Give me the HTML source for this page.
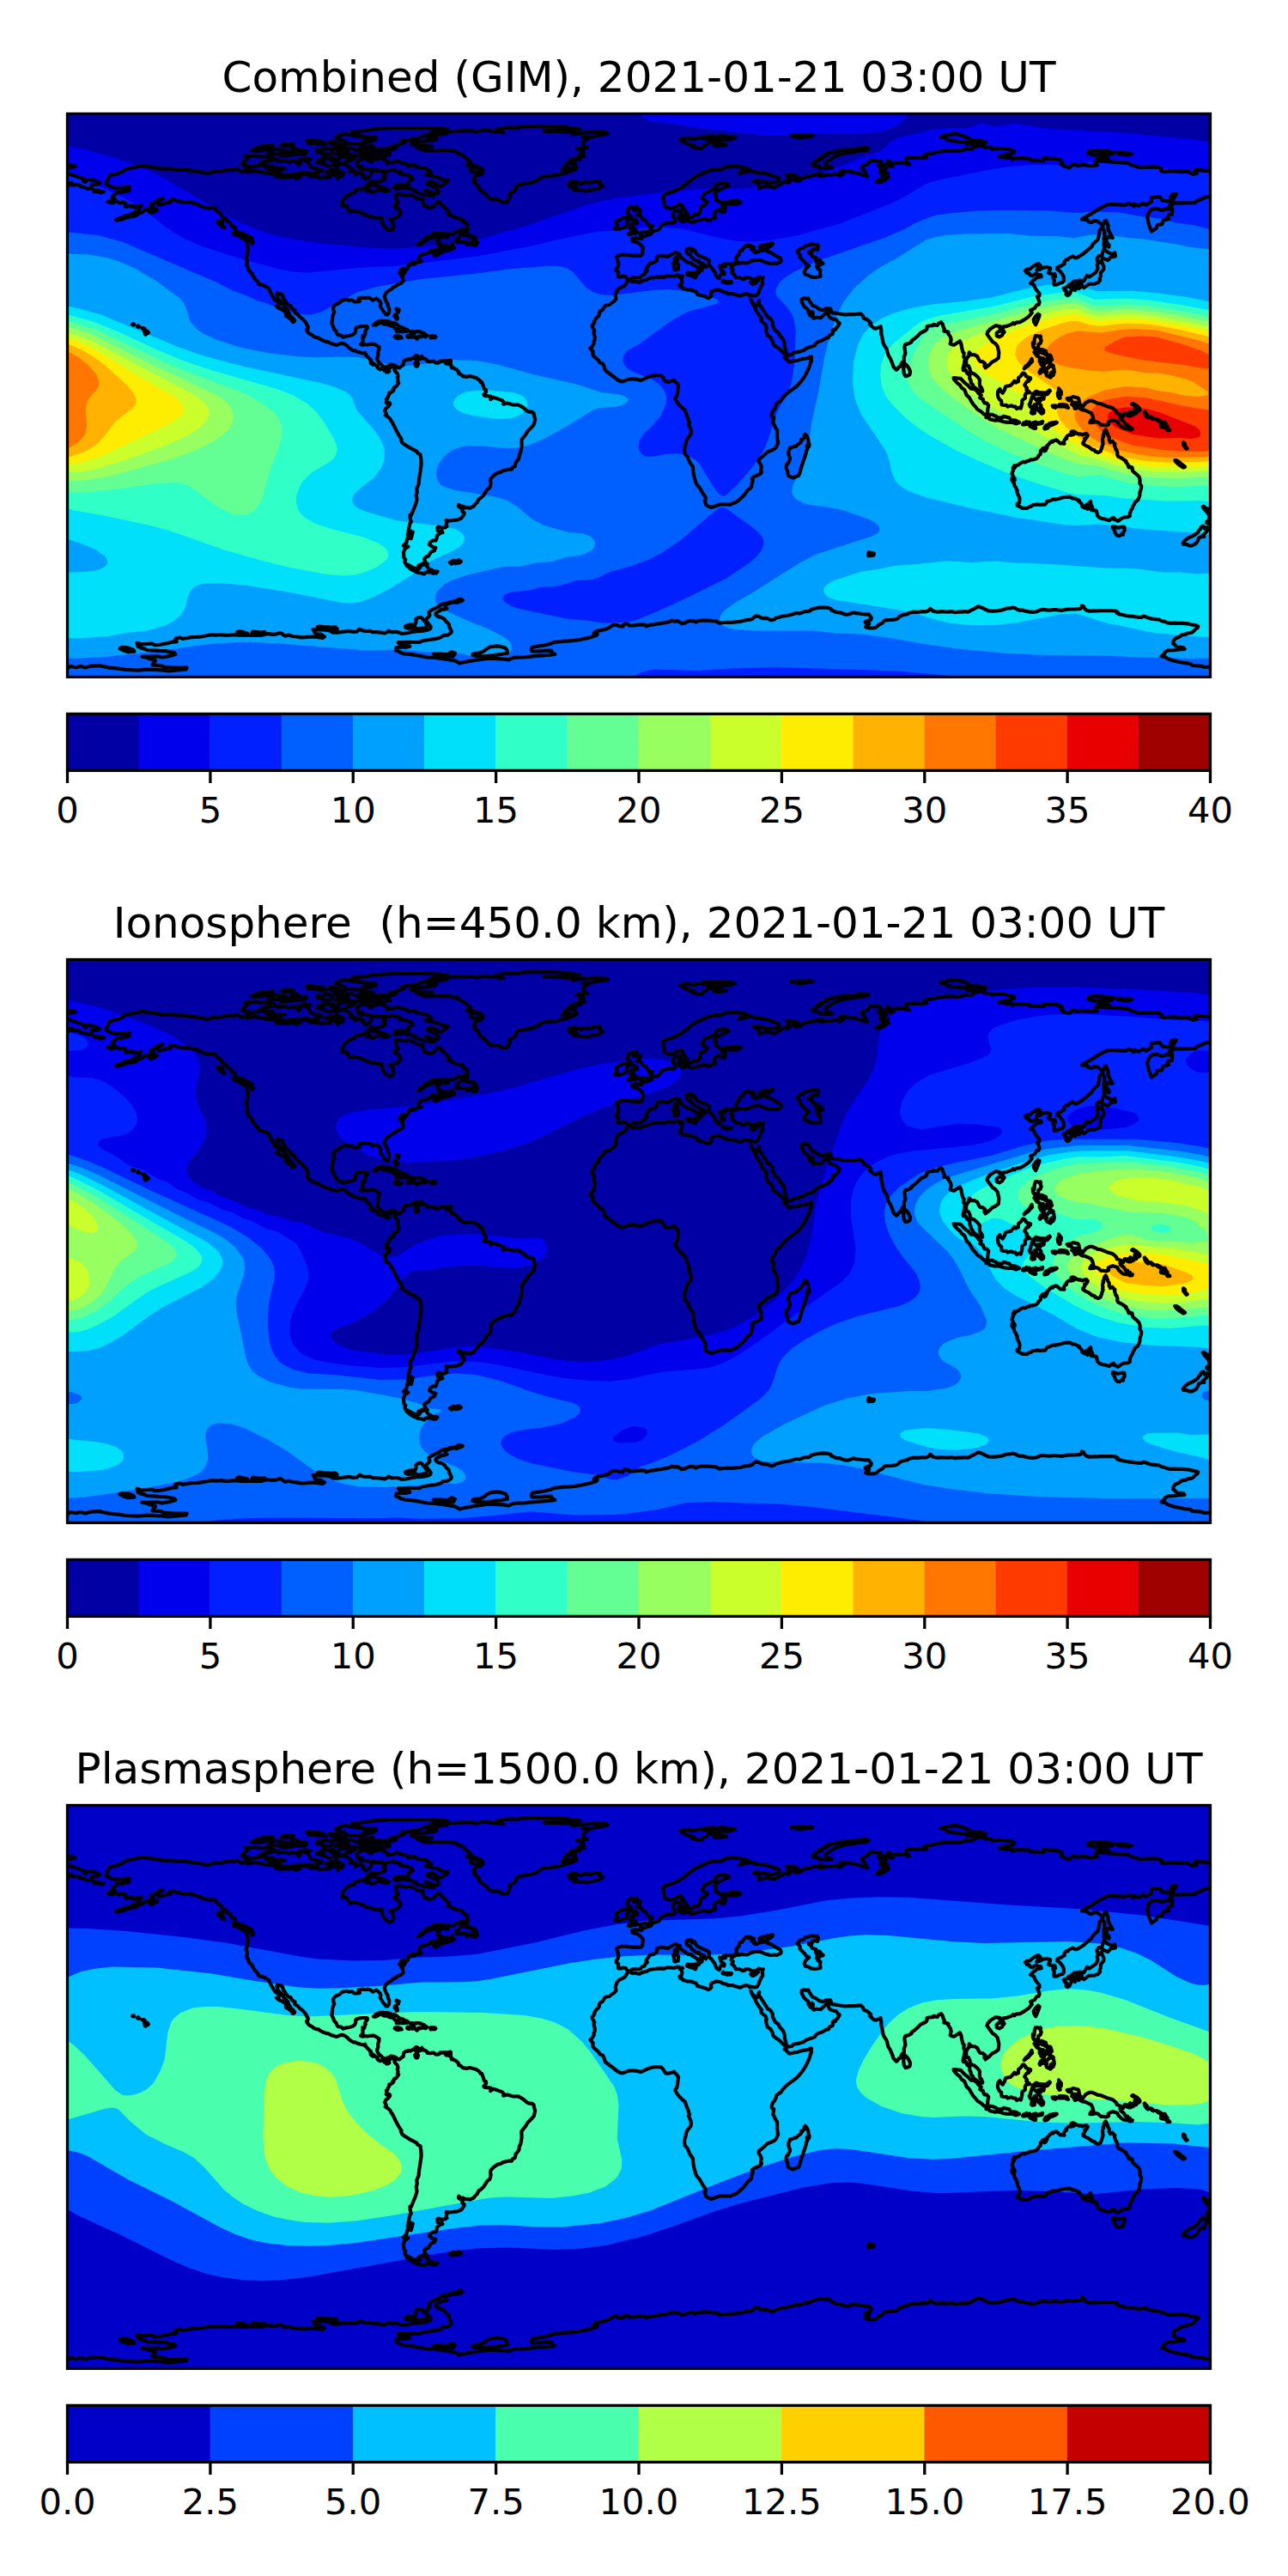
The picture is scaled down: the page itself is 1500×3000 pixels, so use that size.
<!DOCTYPE html><html><head><meta charset="utf-8"><title>TEC maps</title><style>html,body{margin:0;padding:0;background:#fff}svg{display:block}text{font-family:"DejaVu Sans","Liberation Sans",sans-serif;fill:#000;white-space:pre}</style></head><body>
<svg width="1500" height="3000" viewBox="0 0 1500 3000">
<rect width="1500" height="3000" fill="#fff"/>
<defs><clipPath id="mc"><rect x="0" y="0" width="1331" height="655.9"/></clipPath><path id="coast" d="M44.6,81.7 49.5,71.6 58.5,69.7 63,67.9 67.9,64.5 78.7,62.2 87.7,60.4 93.4,61.5 103.9,62.6 109.9,64.1 120,64.1 128.6,65.2 136.5,65.2 146.2,66.7 153.3,67.5 163.1,69.7 171,67.1 176.6,67.5 188.2,64.9 193.5,65.6 197.2,64.1 203.2,67.5 208.5,64.9 208.8,67.9 213.3,67.1 219.3,66.4 225.3,67.9 234,69.4 239.2,70.1 243,69.7 247.8,71.6 242.6,73.5 249.3,74.2 259.5,73.9 262.8,73.1 266.6,75.4 270.7,73.5 266.9,72 269.2,70.7 276.7,70.1 280.1,70.9 283.8,73.1 287.9,72.7 294.3,74.6 300.3,73.9 305.9,73.9 305.2,71.6 308.6,70.9 314.6,72.4 314.6,75.7 316.8,72.7 319.8,72.7 321.7,69 317.6,66.7 313.1,65.2 313.4,61.1 317.9,58.5 322.8,58.9 326.6,60.7 331.8,64.9 328.4,66.7 335.6,67.5 335.2,71.2 340.4,68.2 344.9,70.9 343.8,73.5 347.4,76.1 351.3,73.5 353.9,70.1 354.3,66 359.6,66.4 365.2,66.7 370.1,68.6 370.4,70.5 367.6,72.7 370.2,74.6 369.7,76.5 362.6,79.1 357.3,79.5 353.2,78.4 352.1,80.2 348.7,83.6 347.6,85.1 343.1,87.7 337.8,88.1 334.8,89.6 334.4,91.9 330.3,92.6 325.4,95.6 321.7,99.7 320.2,102.7 319.8,107.2 325.4,107.6 326.9,111.4 328.8,114 334.1,113.2 341.2,114.7 344.9,116.2 347.6,118.1 352.1,119.2 356.2,120.7 362.2,121.1 366.3,121.5 365.9,124.5 367.1,128.2 369.7,132.4 375.3,136.1 378.3,135 380.2,130.9 378.3,125.2 375.7,123 381.7,121.5 385.8,118.9 388.1,116.2 387.7,113.6 385.1,110.4 380.6,107.6 385.1,103.7 383.2,100.1 382.1,94.5 384.7,93.5 391.1,94.5 394.8,94.9 398.2,94.1 401.5,95.2 406,97.5 407.2,99 413.9,99 413.9,102.4 415,106.9 418.4,107.6 421.4,109.9 426.7,107.6 430.4,103.5 432.7,102 435.7,105.4 440.5,109.9 444.7,114.4 443.2,117 448,118.9 451.4,121.1 457.4,122.2 460,123.4 461.5,126.4 464.2,127.1 465.7,128.2 466,132.7 460.8,135.3 454.4,136.5 449.9,139.8 443.5,140.2 435.3,139.5 429.7,139.5 425.9,139.8 422.9,142.5 418,144 412.4,149.2 408.3,152.6 411.3,151.8 417.3,147 425.2,144 430.8,143.6 434.2,145.5 430.8,147.7 431.9,151.8 433,154.8 437.9,156.7 444.3,156 448,151.8 448.4,154.5 450.7,156 446.2,158.2 437.5,160.5 434.2,162 429.7,165 427,164.6 426.7,161.2 433.4,158.2 427.4,158.2 423.3,159 423.8,160.1 419.9,162 415.8,163.2 412,164.2 410,166.5 409.4,169.5 410.5,171.3 412.4,171.7 410.2,172.5 405.3,173.2 401.5,173.6 398.6,174.7 404.2,174 405.3,174.7 400,175.8 397.4,175.8 397.4,176.6 396.3,180 394.1,182.2 391.8,180 393.3,182.6 393.3,184.1 392.2,185.6 390.3,188.6 391.1,186 389.2,184.5 388.6,181.3 388.1,183 388.8,185.2 386.3,184.8 388.8,186 389,189.5 390,189.7 390.4,191 391.1,194.8 388.4,197.6 384.7,198.7 382.2,201 378.5,202.5 377.9,203.7 373.8,206.2 371.7,208 370.1,210.3 369.3,213 370.1,215.6 371.3,218.6 373.1,221.2 373.1,222.9 374.7,227.2 374.6,231.3 373.4,233.6 372.3,234 370.4,233.6 370.1,232.1 368.6,231 366.7,228 364.8,225 364.1,223.5 365,221 364.1,219 361.1,216 359.6,215.2 355.8,217.1 355.1,216.7 353.2,215 350.9,214.1 346.8,214.5 343.4,214.1 340.4,214.5 338.9,214.8 339.7,216 339.7,217.5 340.4,218.2 339.7,218.6 338.2,218.2 336.9,219 334.1,218.8 331.4,216.7 328.1,217.3 325.4,216.3 323,216.7 319.8,217.5 316.4,220.5 312.7,222 310.8,223.8 309.7,225.3 309.7,228 310.1,229.8 310.8,231 309.3,234.3 308.6,237 308.2,242.2 307.8,244.1 308.6,246 309.7,247.8 310.4,250.8 313.1,253.5 313.8,255.7 315.3,257.6 319.4,258.3 320.9,260.2 324.3,259.1 326.9,258.7 329.9,258 332.2,257.2 334.4,255.7 335.6,253.5 335.7,250.5 336.3,249.3 338.9,248.2 343.1,247.5 346.1,247.5 348.5,247.5 349.4,248.2 349.2,249.9 347.2,252 346.4,254.6 347.2,255 346.4,256.8 345.7,259.5 344.6,258.7 343.8,258.7 344.6,260.2 343.8,262.1 344.2,264.3 343.6,266.2 341.6,268.4 344.2,269.2 346.4,268.4 349.1,269 352.1,268.4 354.7,268.4 356.2,268.1 358.4,268.8 360.7,270.3 363.1,271.8 362.6,272.9 362.9,274.4 361.8,277.1 361.8,281.6 361.1,283.4 360.5,285.3 361.2,287.2 362.2,289.1 363.7,290.6 365.6,292.1 366.7,293.6 366.7,294.3 368.6,294.3 369.7,295.1 371.6,294.8 373.1,293.9 375.3,293.2 376.4,292.1 378.7,292.3 380.6,292.8 382.2,293.4 383.6,294.5 384.9,295.6 386.9,295.8 389.6,293.2 391.1,292.8 391.8,288.3 394.1,286.4 396.3,286.4 396.7,285.7 399.7,286.1 402.7,284.2 404.2,283.2 405.9,281.6 407.2,281.6 408.3,282.7 407.5,283.8 405.3,285.3 406.4,286.9 406.4,288.9 404.5,291.1 406,294.1 407.7,293.9 408.5,291.1 407.4,289.8 407.2,286.9 411.7,285.3 411.3,283.6 412.8,282.3 413.9,284.9 416.5,285.3 419.2,287.2 419.2,288.5 422.5,288.7 426.7,288.1 428.7,289.8 431.5,290.2 433.8,289.1 433.8,288.2 438.3,287.9 442.8,287.9 439.8,289.1 440.9,290.8 443.9,291.1 446.9,292.8 447.4,295.8 449.4,295.8 450.8,296.7 453.3,298.1 455.5,300.5 455.7,302.6 457,302.6 459.3,304.4 460.6,305.7 465.1,306.4 468.5,305.5 472.6,306.5 476.5,307.8 480.7,310.9 481.2,312.5 482.5,312.3 483.4,314.4 485.5,320.9 487.5,321.5 487.6,324.1 484.8,327.2 485.9,328.4 492.7,329 492.7,332.7 495.7,330.2 500.3,331.6 506.5,333.9 508.4,336.1 507.7,338.1 512.2,337 519.4,339 525,338.8 530.5,341.9 535.4,346.1 538.2,347.2 541.4,347.4 542.9,348.5 544,353.3 544.7,355.6 543.3,361.8 541.2,364.2 536,369.5 533.6,373.7 530.9,377 528.8,379.8 529.1,386.8 528.1,392.6 527.6,395.1 526.5,396.5 525.8,401.5 522,406.4 521.4,410.3 518.3,411.9 517.4,414.2 513.4,414.2 507.5,415.6 504.8,417.3 500.6,418.4 496.2,421.4 493,425.1 492.5,427.9 493.1,430 492.4,433.8 491.6,435.6 488.9,437.6 484.8,444.2 481.5,447.2 478.9,449 477.2,452.5 474.8,454.7 473.2,457 468.9,459.1 466.1,458.4 464.2,458.8 460.6,457.2 458.2,457.3 455.8,455.2 455.5,457.2 460.4,460.4 459.8,463 462.1,464.5 462,466.4 458.4,471.2 452.8,473.2 445.3,474 441.1,473.6 441.9,475.9 441.2,478.7 441.9,480.6 439.6,481.9 435.8,482.4 432.2,481 430.7,482 431.2,485.8 433.8,486.9 435.8,485.7 436.9,487.6 433.5,488.8 430.5,491.2 429.9,494.9 429,496.9 425.5,496.9 422.6,498.8 421.5,501.7 425.2,504.4 428.8,505.2 427.5,508.5 423,510.7 420.6,515 417.2,516.5 415.6,518.3 416.8,522.2 419.4,524.3 414.3,523.6 408.7,526.4 408.7,529.8 402.8,528.8 398.6,526.2 393.9,524 392.7,521.6 393.8,519.4 391.9,517 391.4,510.5 393,506.9 396.9,504.1 391.3,503 394.8,499.6 396.1,493.4 400.3,494.7 402.2,487 399.7,486 398.6,490.7 396.2,490.1 397.4,484.7 398.6,477.8 400.3,475.3 399.3,471.6 399,467.4 400.5,467.2 402.9,461.2 405.4,455.2 407,449.6 406.2,444 407.3,440.9 406.8,436.3 409,431.7 409.7,424.5 410.9,416.7 412.1,408.3 411.8,402.1 411,396.9 407.2,394.7 406.9,393.2 399.5,389.4 392.8,385.3 389.9,383 388.4,379.9 389,378.8 385.8,373.9 382.1,367 378.5,359.5 377,357.8 375.8,355 372.9,352.6 370.2,351.1 371.4,349.4 369.6,345.8 370.8,343.2 373.8,340.8 375.8,338 375,336.4 373.5,338.1 371.3,336.5 372.1,335.4 371.4,332 372.8,331.5 373.4,329.1 374.9,326.7 374.6,325.2 376.7,324.4 379.2,322.9 378.7,321.7 380.1,321.4 380,319.6 380.8,318.2 382.7,317.9 384.3,315.6 385.7,313.6 384.3,312.7 385,310.6 384.2,307.1 385,306.1 384.4,303 382.9,301 381.6,299.9 380.8,297.9 381.8,296.9 380.8,296.6 380.1,295.4 378.2,294.3 376.6,294.6 375.8,295.9 374.3,296.8 373.1,297.7 374.9,299.8 373.4,300.8 371.6,301 371,298.7 369.2,299.2 368.5,297.7 366,297 364.2,297.8 361.8,296.4 361,295.6 361.3,294.1 360.3,293.2 357.5,292 357.3,290.9 356.3,290.2 356.5,291.3 355.8,292.2 353.7,290.8 353.2,290.1 353.7,287.8 352.7,287.2 353.5,286.5 350.4,283.8 348,281.3 346.2,279.7 347.2,279.7 346.8,278.2 345.3,278.8 341.8,278.3 338.1,277.4 335.1,275.9 332.8,275.8 329.1,273.5 324.8,269.5 322.9,268.3 319.9,267.3 317.8,267.6 314.8,269 312.8,269.4 310.2,268.4 307.4,267.7 303.9,265.9 301.1,265.4 296.8,263.7 293.7,261.9 292.7,260.9 290.6,260.7 286.8,259.5 285.2,257.8 281.2,255.6 279.4,253.3 278.5,251.5 279.7,251.1 280.2,249 280.2,247.8 278.9,246.1 278.6,244.6 277.3,242.7 274,238.9 270.2,236 268.4,233.7 265.2,232.2 264.6,231.3 265.1,228.9 263.2,228 261,226.2 260.1,223.6 258,223.3 255.9,221.3 254.1,219.5 253.9,218.3 251.9,215.5 250.6,212.6 250.6,211.2 247.9,209.7 246.7,209.9 244.5,208.8 243.9,210.4 244.6,212.2 244.9,215 246.2,216.5 249,219.1 249.6,220 250.7,221.5 252.1,223.9 253.2,224.8 254.1,226.2 256.4,228.1 257.7,231.6 258.7,233.2 259.8,235 260,237 261.8,237.1 263.3,238.8 264.7,240.5 264.6,241.1 263,242.5 262.3,242.5 261.3,240.2 258.9,238.1 256.2,236.3 254.3,235.3 254.4,232.6 253.8,230.5 252,229.4 249.5,227.7 248,227.2 245.7,226.3 243.5,224.1 245.3,224.1 246.7,222.6 246.9,220.9 244,218.3 241.8,217.2 240.4,214.9 239,212.4 237.3,209.4 235.7,206.1 235.1,204.1 232.7,202 230.9,201.6 230.5,200.5 228.4,200.3 227.1,199.3 223.6,198.9 222.6,198.3 222.2,196.2 218.5,192.5 215.4,187.3 215.5,186.4 213.9,185.2 211,182 210.4,179 208.5,176.9 209.3,173.8 209.2,170.6 208,167.7 209.4,164.2 209.9,160.8 210.3,157.4 209.7,152.4 208.5,149.1 207.4,147.4 207.8,146.7 213.3,147.9 215.2,151.5 216.2,150.5 215.6,147.4 214.3,144.3 206.5,140.7 203.9,139 197.1,137.5 195,134.1 195.5,131.9 190.7,130.3 190.1,127.3 185.6,124.5 185.4,122.6 183.4,121.2 180.1,120 179,116.7 174.2,113.7 172.2,110.2 168.6,109.9 162.6,109.8 158.2,108.7 150.5,104.8 146.9,104.1 140.3,102.8 135.1,103.1 127.7,101.4 123.3,99.8 119.2,100.6 119.9,103.2 117.8,103.4 113.5,104.2 110.2,105.5 106,106.3 105.5,104.1 107.2,100.4 111.2,99.2 110.2,98.3 105.4,100.4 102.8,102.9 97.4,105.5 100.1,107.4 96.6,110 92.6,111.6 88.8,112.8 87.9,114.4 82,116.4 80.9,118.1 76.5,119.7 73.9,119.5 70.4,120.5 66.6,121.8 63.5,123 57,124.1 56.5,123.5 60.6,121.7 64.2,120.5 68.2,118.5 72.9,118.1 74.7,116.5 79.9,114.3 80.8,113.5 83.5,112.2 84.2,109.4 86.1,107.2 81.8,108.3 80.5,107.6 78.5,109 76.1,107.1 75.1,108.5 73.6,106.6 69.9,108.1 67.6,108.1 67.3,105.8 68,104.5 65.5,103.1 60.7,103.9 57.5,102.1 54.9,101.2 54.9,99.1 52,97.5 53.5,95.3 56.5,93.2 57.9,91.3 60.9,91 63.5,91.6 66.5,89.8 69.2,90.1 72.1,89 71.4,87.3 69.3,86.6 72.1,85.1 69.8,85.2 65.8,86 64.6,86.8 61.7,86 56.4,86.4 50.9,85.5 49.3,84 44.6,81.8ZM499.6,18.3 512.1,16 525.3,16.2 530.1,14.8 543.3,14.4 573.3,14.9 596.7,17.9 589.8,19.3 575.4,19.5 555.3,19.9 557.1,20.5 570.4,20.1 581.7,21.4 589,20.3 592.1,21.6 588,23.8 597.6,22.4 615.7,21 627,21.7 629.1,23.3 613.8,25.9 611.7,26.8 599.7,27.4 608.4,27.6 604,30.4 601,32.8 601.1,37 605.6,39.4 599.7,39.6 593.6,40.8 600.5,42.7 601.4,45.9 597.4,46.3 602.2,49.5 593.9,49.8 598.3,51.3 597,52.6 591.8,53.2 586.5,53.2 591.2,55.8 591.3,57.4 583.8,55.9 581.9,56.9 587,57.8 591.9,60.1 593.3,63.1 586.6,63.9 583.7,62.4 579.1,60.3 580.4,62.8 576,64.8 585.9,64.9 591.1,65.1 581,68.4 570.8,71.3 559.9,72.6 555.7,72.7 551.9,74.1 546.6,78.1 538.6,80.7 536,80.8 531,81.8 525.6,82.6 522.4,85 522.4,87.6 520.4,90.1 514.3,93.1 515.8,96 514.1,99.1 512.2,102.7 506.9,103 501.4,99.9 493.9,99.9 490.3,97.8 487.8,94.2 481.3,89.5 479.4,87.1 478.9,83.7 473.7,80.2 475,77.5 472.5,76.1 476.2,71.8 481.9,70.4 483.4,68.8 484.1,65.9 479.9,67.2 477.8,67.7 474.4,68.3 469.9,67.1 469.6,64.5 471.1,62.5 474.5,62.5 482.2,63.5 475.7,61.1 472.4,59.8 468.7,60.3 465.6,59.4 469.7,55.9 467.4,54.5 464.5,51.9 460,48 455.2,46.5 455.2,44.9 445.2,42.7 437.2,42.4 427.2,42.6 418,42.9 413.7,41.7 407.2,39.3 417,38.2 424.6,37.9 408.5,37 400,35.5 400.6,34 414.8,32.2 428.5,30.4 430,29 419.8,27.7 423.1,26.2 436.1,23.6 441.6,23.2 440,21.5 448.9,20.5 460.4,19.9 471.9,19.9 476,21 485.9,19 494.9,20.4 500.2,20.7 508,21.9 499,19.9ZM620.5,78.9 619.6,81.3 623.8,83.9 619,86.8 608.2,89.3 604.9,90 600,89.5 589.5,88.3 593.2,86.6 585,84.8 591.7,84.1 591.5,82.9 583.7,82.1 586.2,79.6 591.9,79.1 597.7,81.6 603.4,79.6 608.1,80.6 614.2,78.6ZM426.7,96 416.5,94.5 408.7,92.2 404.2,90.4 405.3,89.2 399.7,87.4 394.4,86.6 394.4,85.5 383.6,87.4 380.2,85.9 382.8,83.2 389.9,83.2 397.4,82.5 396.3,79.5 402.3,75.7 401.5,74.2 400,72.7 394.4,70.9 386.6,69.7 389.2,69 385.1,66.4 381.7,66.4 378.8,64.9 376.8,66 370.1,66.7 356.6,65.7 348.3,64.5 342.3,64.1 339.3,62.6 343.1,61.1 337.8,61.1 336.7,57.4 339.7,54 343.4,52.5 353.2,51.4 350.2,53.6 353.2,56.2 356.7,53.2 366.3,51.6 372.7,55.5 372.1,57.9 379.4,56.8 383.2,55.3 391.4,57.4 396.7,58.9 397.1,60.7 404.2,59.6 407.9,62.2 416.9,63.7 420.3,65.2 423.8,68.6 416.9,70.5 425.9,72.7 431.5,73.9 437.2,77.2 443,77.2 441.7,79.9 435.3,84.4 430.8,82.9 424.8,79.1 419.9,79.5 419.5,81.7 423.3,84 428.5,85.9 430,86.6 432.3,90.4 431.2,93 426.3,92.2 416.9,89.2 422.2,92.2 426.3,94.5ZM375.7,42 382.8,40.1 375.7,38.6 380.9,37.5 392.2,33.7 388.8,31.9 397.8,30.4 407.9,28.9 414.3,25.9 422.9,23.2 429.3,22.5 420.7,24 424.4,21.7 442.8,19.1 443,18.4 433.8,17.2 418,16.5 398.2,16.5 377.6,16.5 354.3,18.2 348.8,19.5 331.4,21 332.2,22.3 345.7,27 349.1,27.2 359.2,27.4 359.6,29.6 355.8,30.7 350.6,29.2 353.2,30.7 347.9,31.9 354.7,31.9 341.6,34.9 345.1,34.1 341.2,37.1 345.7,38.6 356.2,37.5 351.3,39.4 339.3,41.2 353.2,42 362.9,41.4 370.8,41.2ZM314.9,25.9 323.2,23.2 333.3,25.5 339.3,26.2 345.7,27 348.7,29.2 341.6,34.9 334.4,34.9 326.6,34.5 322.4,32.6 322.8,31.5 318.7,30.4 312.3,27.4ZM373.8,48 367.8,49.1 362.9,48.4 352.1,49.1 344.2,49.1 338.2,48.7 328.4,47.6 326.9,45.4 326.6,43.5 322.8,42 314.9,41.6 310.8,40.3 312.3,38.6 319.8,39 323.9,40.1 331.4,40.1 334.8,41.6 338.2,43.1 340.4,44.6 350.9,45 356.9,44.2 364.6,43.9 370.8,44.2 374.7,45.7 375.7,47.2ZM323.9,46.9 321.7,48.4 316.4,48 311.9,47.2 313.8,45.4 319.3,44.4 322.5,45.7ZM325.4,55.2 321.4,58 317.2,57.9 314.8,54.6 314.9,52.9 316.8,51.1 320.6,50.1 328.4,50.2 335.6,51.1 329.9,54.5ZM306.7,65.2 310.4,66.1 312.7,66.7 316.4,69 313.8,70.3 308.9,69.1 305.9,69.5 300.7,67.9 304.1,66.7ZM305.2,60.7 302.6,60.4 299.9,59.2 290.6,56.2 290.6,55.1 298.4,55.5 294.3,52.9 298.4,51.4 302.9,52.1 309.7,51.4 310.8,52.5 307.3,54.4 313.1,55.9 312.3,59.2ZM270.7,55.5 268.4,54 271.8,53.6 275.6,54 279.7,55.5 281.9,59.2 283.1,61.9 289.4,63.7 296.2,65.6 295.8,67.1 289.8,67.5 292.1,69 290.9,70.3 284.2,69.7 277.6,68.6 273.3,69 266.2,70.1 256.8,70.9 250.1,71.2 248,69.4 243,68.2 239.6,68.6 235.1,65.8 237.3,65.4 243.3,64.9 248.6,64.9 253.5,64.1 246.1,63.4 238.1,63.7 232.8,63.7 231,62.2 239.6,60.7 233.7,60.7 227.2,59.8 230.4,57 232.9,55.5 243,53.2 246.7,54 244.8,55.7 253.5,54.5 258.5,56.4 262.8,54.5 266.2,55.9 269.2,59.4 271.1,57.9 268.4,54ZM202.8,58.5 211.5,60.7 213.3,62.2 211.5,63 202.8,58.5 204.3,57 207,54.4 210.3,51.7 206.6,49.5 219.3,49.1 224.6,49.9 234,49.9 237.7,51 241.8,52.5 237,53.6 228,56.2 223.1,58.9 223.1,60.4 213.3,62.2ZM276.3,46.9 263.6,47.4 254.2,49.1 248.6,49.1 247.8,48 255.7,46.1 238.8,46.7 233.6,46.1 238.6,42.4 242.2,41.2 252.7,42.7 259.5,44.8 265.9,45.1 260.6,41.6 264,40.1 268.1,40.5 269.2,42.4 270.7,43.7 274.1,43.1 277.8,43.2 278.6,45ZM296.6,46.6 296.7,44.5 290.6,44.8 290.2,42 294.3,42 299.9,40.7 305.2,40.9 305.6,40.5 308.6,42.1 308.6,44.1 306.8,46.9 300.7,47.2ZM283.1,52.9 279.7,55.3 274.1,52.6 275.2,52.1 280.1,52ZM239.2,36.9 238.8,39.7 235.8,41.2 232.5,41.2 225.3,42.9 219.3,43.5 214.3,42.7 220.5,39.7 228.3,37.5 234,37.5ZM320.6,36.4 323.6,37.1 323.2,37.5 314.2,37.3 313.4,36.4ZM261.7,36.7 254.8,37.9 249.3,36.7 252.3,35.4 257.6,35.1 263,35.6ZM305.2,33.9 305.2,32.4 310.1,32.6 312.1,32.7 316.6,34.1 315.7,35.4 310.1,36.2 307.1,35.3ZM286.8,31.2 296.9,32.6 299.7,34.5 301.1,36 295.1,35.6 288.9,34.5 280.4,34.1 284.2,33 279.7,32.2 279.3,30.7ZM355.4,81.7 356.3,83.6 358.1,82.9 360.3,84 364.4,85.1 368.9,86.2 369.1,88.2 371.9,87.9 374.6,89.2 371.2,90.4 365.6,89.4 363.3,87.7 359.6,89.6 354.3,91.7 352.9,89.6 347.9,90 351.1,88 351.7,85.1 352.8,81.7ZM466.4,135.7 464.5,138 461.9,141.3 464.5,140 466.8,141 465.7,142.1 469,143.2 470.5,142.2 474.3,143.4 473.2,146.2 475.8,145.5 476.2,147.5 477.5,149.8 475.9,153.1 474.3,153.3 471.7,152.6 472.6,149.6 471.5,149 467.2,152.2 464.9,152.2 467.5,150.3 464,149.6 460,149.6 452.5,149.6 452.2,148.5 454.4,147.2 452.9,146.2 455.9,144 459.8,138 462.3,135.7ZM434.9,141 439,141.7 443.2,143.2 443.2,144 441.3,144 436.4,142.8 433,141.1ZM436.2,153.5 439,154.1 442.4,153.9 440.5,155.5 439.2,155.7 434.4,154.1 433.4,152.9 434.9,151.7ZM211.8,146.2 210,146.6 203.8,145.1 202.6,143.6 199.3,142.5 198.6,141.3 194.7,140.6 193.3,138.7 193.6,137.7 197.6,138.5 199.8,139.1 203.4,139.5 204.7,140.8 206.6,142.5 210.3,144.1ZM177.3,125.5 180.9,125.2 179.8,129.4 183,132.4 181.5,132.4 179.3,130.7 177.9,129 176,127.9 175.3,126.2 175.5,125ZM101.2,114 97.5,115.5 95.6,114.4 95,112.6 98.4,111.4 100.5,110.7 102.9,111 104.5,112.1ZM31.1,88.9 33.4,89.6 35.6,89.2 38.6,90.4 42.4,90.7 42,91.1 39.4,91.9 36.4,91.1 34.9,90.4 31.7,90.7 30.7,90.4ZM50.6,101.6 53.6,102 54,103.5 51.7,104 49.3,103.3 47.1,102.4ZM366.3,241.1 369.7,241.5 372.7,241.5 376.1,242.6 377.6,244.1 381.1,243.7 382.5,244.5 385.6,246.9 388.1,248.6 389.2,248.6 391.4,249.3 391.2,250.3 394.1,250.5 396.8,252 396.3,252.9 393.8,253.4 391.3,253.6 388.8,253.3 383.3,253.6 385.8,251.6 384.3,250.6 381.9,250.3 380.6,249.2 379.7,247.1 377.6,247.2 374.2,246.2 373.1,245.4 368.2,244.8 366.8,244.1 368.2,243.2 364.5,243 361.8,244.9 360.3,245 359.7,246 357.9,246.3 356.3,246 358.2,244.8 359.1,243.4 360.8,242.6 362.7,241.9ZM400.4,253.5 406,254.2 406.4,253.5 409.4,253.5 411.7,254.6 412.6,254.4 413.3,255.7 415.4,255.7 415.2,256.8 416.9,256.9 418.8,258.3 417.3,259.8 415.6,259.1 413.9,259.1 412.6,259.1 411.9,259.6 410.5,259.8 409.9,259.1 408.7,259.5 407.2,262.1 406.2,261.5 406,260.4 403.5,259.8 401.8,260.2 399.5,259.8 397.8,260.5 395.7,259.5 396,258.1 399.5,258.7 402.3,258.9 403.8,258.1 401.9,256.5 402,255 399.7,254.4ZM384,258.7 386.6,259.1 388.6,260 389.2,261 386.6,261.1 385.4,261.7 383.3,261.1 381.2,259.8 381.7,258.9ZM426.4,258.7 428.3,259.1 428.9,259.8 428,260.7 425.2,260.7 423,260.8 422.8,259.2 423.3,258.6ZM384.3,239 383.2,239.2 382.3,237 380.9,235.8 381.7,233.6 382.8,233.7 384.2,236.8ZM383.2,227.2 386.2,228.3 385.4,231 384.7,230.6 384.9,228.7 383.2,228.3 383,227.4ZM443.5,287.6 445.8,287.2 446.5,287.3 446.4,290.2 443.3,290.6 442.6,290.2 443.7,289.1ZM417.6,525.4 419,527.2 420.9,530 425.7,532.2 431,533.1 429.3,535 425.7,535.2 423.8,533.9 421.6,533.8 417.6,533.8 415.4,536.1 412.6,535 408.7,534.5 403.9,532.4 400.1,530.4 395,526.2 398,527 403.3,529.4 408.3,530.8 410.2,529 411.4,526.5 414.9,525ZM445.4,522.5 449.9,520.2 453.1,521.2 455.4,519.7 458.4,521.3 457.2,522.7 452.2,523.8 450.5,522.5 447.3,524.2ZM91.7,256.5 91.1,257.1 90.2,256.6 90.3,255.6 89.7,254.2 89.9,253.8 90.5,253.2 90.3,252.4 90.5,252.1 92.9,253.1 93.5,253.6 94.4,254.9 92.9,255.9ZM89.7,250.7 88.4,250.9 87.8,250.2 87.4,249.9 87.3,249.6 89,249.6 90,250.2ZM83.8,248.1 83.6,248.4 82,248.2 81.5,247.3 81.4,247.2 82.4,246.6 82.7,246.9ZM77.4,245.7 77,246 75.7,245.3 75.9,245.1 76.5,244.7 77.3,244.8ZM1349.7,69.5 1344.5,67.9 1333.6,66.1 1325.9,66.3 1313.9,65.2 1312.3,66.9 1315.3,69.4 1310.7,70.5 1304.2,67.2 1297,67.6 1289.9,66.8 1283.3,67 1278.3,67.7 1273.7,66.7 1274.1,63.9 1271,62.4 1263.5,61.8 1248.4,62.5 1238.6,59.6 1235.4,57.4 1201.5,54.9 1196.6,56.5 1199.3,60 1190.4,60.6 1183.1,59.4 1176.8,60.4 1170.7,58.7 1167.1,62.7 1161.2,61.2 1156.5,58.2 1158.7,56.6 1157,54.2 1151,52.2 1145,52.3 1137,51.6 1136.8,54.5 1121.1,53.9 1120.2,52.2 1108.2,51.6 1102.2,52.2 1100.5,53.1 1098.6,50.7 1095.2,51.4 1089.7,50.5 1085,49.9 1087.9,48.8 1097.7,46.8 1101.9,45.6 1102.8,43.7 1099.8,42.3 1091.3,40.5 1080.4,40.4 1076.9,41.3 1075.9,39.5 1067.5,38.9 1066.1,36.7 1057.3,38.3 1052.7,41.5 1045.8,41.4 1037.4,43.4 1024.4,42.9 1013.3,44.5 1006,46.3 1001.7,46.4 997.4,48.9 1000.4,50.8 992.3,51.4 983.3,51.2 976.7,51.9 977.1,55.9 980.4,59.1 973.5,56.9 965.7,57.1 959.4,58.6 961.2,61.3 957.2,60.6 958.6,57 956.7,54.9 954.8,55 955.7,57.7 948.9,60.2 953.8,63.3 950.8,67 951.7,69.1 955.8,69.4 954.1,71.9 956.3,74 953,75.8 952,77.6 947.9,78.6 946.4,80 942.1,79.4 949.5,74.1 951.1,71.6 946.9,69.3 947.8,64.2 946.6,61.5 944.3,60.3 947.8,57.3 947,55.2 937.1,54.2 934.3,55 931.8,58.4 924.9,61.8 929.8,69 930.4,71.6 931.7,72.8 918.2,68.5 901.9,66.2 899.9,67.4 903.9,69.6 899.6,72.1 895.3,69.8 889.8,71.3 882.7,71.5 880.1,72.7 875.4,72.4 879.1,70.1 876.3,69.9 855.4,74.9 854.4,77.3 848.7,78.1 845.7,76.8 845.7,74.7 850.4,74.3 848.3,72.2 837.8,71 840.6,73.3 838.7,75.5 841.8,77.8 839.7,80.3 836.2,79 824.8,85.1 823.3,86.2 814.3,84 805.7,86.6 805.3,81 799.3,78.4 802,77.8 818.8,80.6 824.8,79.5 829,77.6 828.8,75.1 826,73.5 811.7,69.1 801.6,68.2 795.2,66 791.5,67.3 785.1,68.8 782.1,69.1 787.4,64.9 792.2,63.9 780.5,61.2 766.9,61.8 761.2,64.9 755,64.6 746.8,66.3 736.5,71 730.2,73.8 721.2,81.1 714.4,86.3 706.9,90.2 697,93.3 693.6,95.7 694.7,104.4 696.1,108.4 701.3,110.3 706.3,109.4 713.7,105.1 716.2,107.4 719.1,112.7 722.2,116.9 723.4,120.5 727.7,120.3 729.9,117.4 734.4,117.7 736.5,114.2 738,107.9 741.9,107 745.3,102.8 741.7,100.7 739.1,98.1 741.8,92.8 749,89.6 755,86.6 754.4,84.2 758,81.7 764.5,80.6 769.7,82.4 770.1,83.9 767.6,84.7 759,88.8 755.6,91.1 753.8,93.3 755.6,96.7 754.8,100.4 758.4,101.6 760.6,103.7 770.1,102.2 773.3,101.5 780.1,101.2 784.1,103 779.8,105.1 775.9,105.2 771.8,104.6 767.1,105.1 762.4,106.1 762.7,108.3 765.1,109.6 766.5,109.2 766,111.4 765.3,114.2 762.3,114.3 759.3,111.5 755.8,112.8 753.9,115.2 753.8,118 754.6,121.1 749.4,122.3 748.6,124 745,124 744.7,123.1 740.9,122.4 736.2,123.7 730.4,125.4 727.8,126.5 721.8,123.8 719.7,124.9 715.9,125.6 715.9,124.3 712.1,123.4 712.1,121.9 711.1,120.1 713.8,117.4 715.8,116.4 713.3,114.8 714.5,111.6 711.5,112.7 706.9,113.9 705.8,115.1 705.3,119.9 706.9,122 707,124.1 707.9,125.5 705.3,127.4 701.5,126.8 697.6,127.4 692.5,129 689.2,134.5 687.3,135.5 684.3,136.3 681,137 679.9,140.1 671.2,143 667.6,141.4 668.8,145.7 662.5,144.7 657.7,145.5 658,148.3 663.8,149.7 666.5,151.6 670.4,155.6 669.7,163 667.7,165.3 661.7,165.1 658.6,165.3 654.6,164.7 645,164 639.7,166.7 641.2,172.3 642,175.2 640.9,179 639.4,180.4 639.1,182.8 641.7,184.6 641.5,189.8 645.4,189.9 646.9,189 650.4,189.6 651.5,191.7 652.9,193 654.7,193.3 658.5,190.5 666.8,190.6 669.5,187.7 672.3,186.9 673.1,184.5 675.3,182.8 673.8,180.7 677.6,175.5 677.9,174.3 682.7,173.5 686.3,171 686.5,166.5 692,165.3 699.4,166.4 702.8,164.3 708.2,161.7 713.1,163.4 714.3,167.1 720.3,171.7 723.2,173.4 726,173.6 727.6,175.1 732.6,177.9 733.8,179.8 735.3,182 733.7,185.9 735.2,185.6 737.3,182.4 738.8,182.2 739.2,180.3 736.5,178.8 738.1,176.4 741.4,177 743.4,178.8 744.2,177.5 740.6,174.8 737.8,173.7 734.4,172.3 735.5,171.6 731.6,170.7 727.5,167.7 725.6,164.6 722.1,162.8 720.8,160.8 721.3,159.8 721.1,157.9 724.1,156.6 727.1,157.1 726.1,158.8 727.2,160.1 728.3,158.5 730.7,159 731.8,162.2 734.9,164.9 740.5,167.4 744,168.8 747.5,171 747.6,172.8 747.3,175.4 747.6,177.2 749.7,178.4 750.4,179.5 752.2,182 754.1,184.4 754.7,186.9 756.1,189.9 759.2,191.6 760.2,188.2 761.7,185.9 764.9,186.9 765,184.8 761,181.8 759.7,177.1 762.4,178.2 766.4,177.7 763.7,175.5 768.2,174.5 772.6,175 773.5,177M773,180.1 775.4,181.9 773.6,184.8 776.3,186.9 778.5,190.6 782.6,190.5 786.2,192.6 788.8,192.1 789.7,190.5 793.7,190.7 796.8,192.7 802.5,192.3 805,190.1 808.2,191 810.4,190.7 809,192.1 809.5,195.3 809.8,198.2 807.9,200.9 806.6,204 805.9,205 805.2,207.8 804.2,209.5 803.4,211 801.5,211.9 798.6,211.8 795.6,210.9 794.7,212.1 793.7,210.2 791,209.7 787.7,210.1 783.3,212.3 781.5,211.7 774.2,209.6 769.2,209.7 768.3,208.5 763.4,207.4 760.7,205.7 755.6,204.9 750.3,207.2 749.2,209 750,211.9 748.2,213.6 746.4,214.6 742.4,212.7 737.1,211.2 733.8,210.4 732,207.1 727.1,205.4 723.9,204.8 722.3,205.1 718,203.8 716.5,203.2 715.6,201.4 713.6,201.4 712.9,199.4 715.4,197.5 715.9,194.2 714.6,191.6 716.5,189.7 716.2,189 713,190.4 713.2,188.5 710.5,188 706.4,189.5 702.4,188.9 698.3,188.9 694.8,190.4 692.9,189.8 686.7,190.2 680.4,190.8 676.7,192 674.4,193.5 670.3,194.2 666.7,196.2 665.1,196.2 661.2,195.3 657.7,195.6 655.4,194 652.6,194 651.5,196.3 649,200.2 646.2,201.7 642.4,203.4 640,206 639.5,207.9 638.1,211.2 639,215.8 635.9,219 634,220 631,222.5 627.6,222.9 625.6,224.4 623.2,228.3 620.7,229.6 619.4,231.9 619.3,234 618.3,236.1 617,236.7 615,239.1 613.6,241.8 613.9,243 612.7,245 611.2,246 611.1,247.8 613.8,252.7 612.9,254.6 614.3,260.2 613.9,263.7 612.8,265.6 613.2,267.5 610.4,272.1 608.8,272.8 612.3,277.1 611.7,278.8 612.3,281.6 616.2,285.1 618.1,286.7 620.2,289.8 623.4,291 625.2,294.7 626.3,298.8 631,302.3 634.5,305 641.1,310 645,311.7 646.7,311.8 650.4,310.4 653,309.4 657.4,308.7 662.7,309.3 667.5,310.4 670.9,309.3 673,308 678.8,305.8 681.9,305 685,304.6 691.1,304.6 693.7,307 695,309.7 697,312.1 700,312.2 702.8,311.5 706.7,310.2 707.6,311.8 710.1,314.1 711.6,316.6 711.1,319.5 710.5,324.3 709.7,328.8 707.9,331.1 707.9,332.2 710.1,335.9 712.6,339.2 716.5,343 719.3,345.2 721.1,350.9 722.6,354 724.5,360.2 723.4,361.7 726,367.5 726.4,370.4 726,373.2 724.8,374.9 721.7,378.9 720.5,382.2 720.3,383.9 718.5,390.6 719,395.8 722.2,399.5 724.9,406.3 728.3,411 728.8,417.5 730.1,423.3 731.9,429.6 733.4,432.4 736.1,435.2 738.8,440.1 740.7,443.3 743.2,446.8 743.3,449.7 742.1,450.3 743.9,455.5 746.8,457.3 750.1,458.5 759.5,455 769.2,454.8 771.5,455.3 773.9,454.1 777.8,452.7 780.7,450.9 787.6,444.8 792.3,438.3 795.6,435.9 796.6,434.2 797,431.1 798,428.3 798.3,426.4 797.3,424.5 798.6,423.1 806.2,419.8 807.8,418.5 808.4,417 807.5,416.3 808.2,410.9 806.8,407.7 805,404.9 805.3,402.2 806.8,401.4 810.9,398 815.1,394 822.8,390.8 825.2,388.4 827.8,383.1 827.1,381.3 826.5,375.5 826.6,368.4 824.7,365.9 823.1,362.2 821.8,359.9 822,358.1 822.7,353.7 820.3,352.4 820.1,350.2 821.8,345.6 823.3,344.4 825.3,340.4 825.8,337.7 828.1,335.9 830.8,334.4 832.5,331.5 836.6,327 840.1,324.1 849.4,317.3 853.9,312.2 857.1,308 860.3,302.6 862.6,297.8 864.4,293.6 865.4,289.5 866.3,288.2 866.2,286.2 866.5,283 865.1,283 863.3,284.3 861.3,284.6 858.4,285.3 856.3,285.4 853.1,286.3 849.8,287.5 845.7,287.9 842.1,288.9 840.3,288.9 838.6,287.3 837.9,285.8 836.7,285.1 835,284 837.2,283.2 837.3,281.6 836.4,280.4 834.6,279.3 831.3,275.9 829.3,273.7 824.1,270.2 822.1,268.4 821.2,264.9 818.9,260.6 815.4,258.3 814,253.8 813.5,249.9 814.3,249.3 813.1,245.6 808.1,241.5 807.9,239 808.7,238.3 805.3,234.2 804.1,232.1 802.7,230.1 799.9,224.2 797.6,220.4 796.1,216.5 797.6,219.3 800.8,223.2 802.9,223.8 804,221.8 804.7,219 805.8,217.5 804.6,222.7 806.8,223.1 812.1,231.3 814.3,234.7 815.5,237 817.3,237.7 819.2,239.2 821.5,243.3 821.1,245.6 824.1,252 828.2,255 829.3,258 833.5,262.5 834.6,265.1 835.3,268.4 835.3,270.7 836.8,276.3 837,278.6 838,280.8 840.6,280.8 843.6,280.4 845.8,278.2 852.6,277.1 855.6,275.9 857.5,275.6 860.8,272.9 866.8,271.1 870.6,269.6 870.6,268.4 874,265.6 878.1,264.3 882.2,262.1 883.7,261 886,261 886.7,260.2 887.1,258.3 889.3,257.2 891.2,256.5 891.6,254.2 891.2,252.3 892.3,251.2 894.2,251.6 895.7,249 897.2,247.8 897.6,246.7 899.1,244.5 899.1,243.7 897.8,243.1 895,239.6 892.7,239.2 890.1,238.5 887.8,237.3 886.3,234.7 885.8,231.7 886.3,229.1 885.1,230.4 882.6,232.8 880,235.1 877.3,237.7 875.1,237.5 872.1,237.3 869.1,238.1 868.3,237.3 867.6,235.8 868.3,233.6 868.3,231.3 867.2,230.2 865,232.5 865.3,235.3 864.2,233.2 863.1,232.1 862.7,228 860.5,226.5 857.8,224.2 856.3,221 854.8,218.2 855.6,217.5 855.2,215.6 858.2,214.5 860.8,215.6 862.7,215 865.5,220.1 868,223.5 871.7,224.6 875.5,227.6 880,228.7 883.7,226.8 886.7,226.5 888.6,226.9 890.1,231.7 894.2,232.1 898.3,232.8 905.5,234 910.7,233.6 916.7,233.6 923.8,232.8 926.5,235.5 927.6,238.5 930.6,239.2 934.9,242.6 935.8,243.9 934.3,245.2 939.2,249.7 941.8,250.1 947.1,247.8 947.8,251.6 947.8,256.1 948.9,261 950.4,268.1 953.8,273.3 954.6,275.6 955.7,280.4 957.6,283.8 958.7,285.7 960.2,289.4 962.1,294.7 965.4,298.2 966.9,297.1 968.4,294.7 971.8,293.6 970.7,292.3 972.2,289.4 974.3,289.2 974.3,282.8 975.9,279.3 975.6,276.3 974.8,271.4 975.9,268.4 977.8,268.3 981.2,266.9 983.1,265.8 983.1,264.3 986.8,261.7 989.4,259.5 993.9,255 999.2,252.5 1001,250.5 1001.1,247.5 1005.6,246.7 1008.2,246.7 1008.6,245.4 1011.2,246.1 1013.4,246.3 1014.6,244.1 1017.6,242.7 1019.1,244.8 1019.8,246.7 1020.2,248.6 1021.3,250.5 1020.9,253.1 1023.9,253.6 1026,254.2 1025.4,255.3 1028.4,259.8 1029.2,263.2 1028.1,267.9 1030.3,268.8 1032.6,269.2 1036.7,266.6 1039.3,264.7 1040.8,267.7 1041.6,272.6 1042.7,277.1 1044.2,278.9 1043.8,283.1 1045.3,285.3 1044.4,290.9 1043.1,296.8 1043.4,298.8 1044.2,296.6 1046.1,298.4 1047.9,302.4 1050.2,303.8 1050.9,305.4 1050.6,308.2 1051.9,310.2 1052.4,313.3 1054.6,315.8 1055,317.7 1059.4,320.7 1063,323.5 1065.7,323.2 1065.7,322 1064.2,318.6 1062.7,317.6 1062.3,314.1 1062.5,309.8 1060.9,307.4 1058.7,305.1 1055.9,302.8 1053.6,302.3 1051.5,300.2 1050.9,296.9 1049.3,293.5 1046.9,293.4 1046.6,287 1048.3,283.4 1049.8,281.9 1050.2,277.8 1052.9,280.7 1056.2,280.6 1059.6,282.3 1061.4,286.3 1062.9,288.3 1065.9,288.7 1068.8,290.9 1067.8,293.4 1069.1,295.8 1073.8,292.3 1076.8,289.1 1081.2,286.8 1084.3,284.3 1084.8,277.7 1083.2,270.7 1080.9,267.7 1077.4,265.5 1073.8,260.6 1071,256.6 1071.8,254 1074.9,250.5 1080,247.3 1081.7,246.7 1086.8,247.8 1085.8,249.3 1086.9,252 1088.9,251.8 1090.3,247.8 1094.2,247.3 1099.4,245.4 1101.5,243.5 1102.9,244.8 1105.1,243.1 1109.4,242.6 1114.7,239.6 1119.8,236 1123.3,231.6 1121.6,228.7 1126.3,226.6 1129,222.6 1131.1,222.2 1132.1,219.3 1129.5,213 1131.9,212 1131.9,209.2 1129.4,206.4 1127,202.8 1125.5,199.1 1121.6,197.2 1125.5,193.5 1127.2,192.7 1128.9,190.7 1134.2,189.7 1133.6,187.7 1131.2,187.5 1127.8,186.1 1123.7,188.7 1120.7,187.7 1120.6,186 1117.5,185.4 1115.5,182.8 1117.4,181.1 1121.1,180.9 1123.4,178.5 1127.7,175.8 1130.9,174.5 1132.9,176.5 1130,179 1130.8,180.5 1128.7,182.2 1132.8,181.2 1135.5,179.4 1140.8,178.4 1144.7,179.8 1144,182.4 1142.4,185.2 1144.4,186.1 1147.9,186.5 1149.9,186.3 1150.5,189.7 1147.7,190.4 1149.4,194.3 1148.7,197.1 1149.1,199.1 1152.5,198.8 1155.5,197.3 1158.9,196.5 1160.3,194.5 1160.3,190.2 1159.3,187.7 1156.1,183.3 1154,181.7 1152.5,181.1 1152.9,179 1154.7,178 1157.1,177.4 1159.2,175.6 1161.2,174.8 1161,172.1 1162.2,170.8 1163.8,169.5 1165.2,169.8 1165.8,168.5 1170.8,165.8 1173.2,167.6 1175.6,167.6 1183,163.1 1188,158.8 1193.1,154.4 1194.3,151.8 1200,146.4 1201.7,140.4 1202,135.9 1204.9,132.2 1204.8,129 1199.4,124.9 1195.3,124.7 1192.9,126.5 1189.2,125.7 1187.4,123.4 1181.5,122.9 1189.3,118.1 1193,116.2 1199.8,111.7 1205.8,108.4 1211.8,105.7 1220.4,105.6 1231.6,106.3 1236.5,104.4 1242.1,107.6 1242.3,105 1247.8,107.2 1253,104 1256.2,106.3 1262.4,102.4 1262.5,97.7 1272.1,96.5 1275.2,101.1 1281.8,101.8 1288.5,98.8 1291.5,93.5 1287,93.8 1284.7,97 1287.1,101.2 1282.3,109.7 1278.5,111.4 1274.4,112.5 1268.8,110.4 1262.8,111.2 1259.4,115.2 1257.6,120.4 1259.4,128.8 1261.3,134.2 1262.6,137 1268.1,133.3 1269.2,129.5 1274.8,128.6 1276.1,124.3 1282.7,122.4 1281.1,120.8 1282.7,117.7 1286.2,117.5 1286.7,112 1286.8,110.7 1282.4,111.2 1282.3,109.7 1286.8,106.1 1288,103.6 1293.1,104.1 1298.4,103.9 1313.5,103.6 1314.9,101.8 1320.3,99.5 1326.1,96.9 1329.4,96.5 1339.8,93.7 1346.9,94.5 1347.8,93.5 1347.4,91.9 1345.7,90.9 1343.4,87.8 1340,85.8 1344.5,86.2 1349.7,84.4M0,69.5 9.2,72.4 19,76.1 18.7,78.4 21.2,79.3 20.4,76.6 30.5,77.2 37.9,80.7 34.2,82.3 28,82.7 27.9,86.4 26.4,87.2 22.9,87.1 20.1,85.7 15.1,84.7 14.2,83 10.4,82.4 6.1,82.9 4.1,81.6 4.9,80.2 0.4,81.1 2.1,82.9 0,84.4M779.9,172.1 778.6,168.4 780,165.8 782,164.2 783,159.7 786,159.2 785.9,158.3 790.2,153.4 793.9,154.4 793.7,152.9 799.7,155.3 796.8,158.1 800.7,159.2 799.8,161 801.9,161.7 807,159.6 811.1,158.9 811.8,157.6 808,157.8 806.2,156.9 805.9,154.6 809.2,153.2 812.7,153 815.2,151.8 818.2,151.5 821.5,150.9 821.7,151.7 818.2,154.7 816.1,153.2 815.1,157.8 812.4,158.4 815.6,160.6 819.9,162 824.7,165.2 830.3,168.2 831.2,170.7 830.7,172.3 826.2,174.3 823,174 818.7,174.5 813.3,173.1 806.7,170.4 800.5,170.5 796.2,171.6 791.7,174 784.5,173.5 782.9,174.2 778.4,174.5 776.8,175.5 773.7,177.5 773.5,177 772.6,175 776.1,174.4 779.9,172.1M859,154.1 862.5,153.3 866.8,151.7 870,152.6 873.7,152.4 874.4,154.7 873.7,158.4 870.5,157.8 867.3,158.4 867.1,161.2 863.5,160.8 863.6,162 865.7,163 867.4,166.4 871.7,167.6 872.4,168.9 871.5,170.5 871.7,171.4 872.9,173.8 873.3,171.1 876.3,170.1 877.4,172.3 880.1,174.5 876.8,175.7 873.3,174.8 872.4,178 874.9,178.2 874,180.8 876.9,182 876.4,185.9 877,188.6 876.7,189.5 870.8,190.5 865.5,189.8 862.9,188 859.3,187.2 858.1,184.4 859.4,181.7 860.1,180.3 863.8,177.1 862.6,176.1 860.9,176 859,173.3 857,171.3 852.9,166.9 853.3,164.4 849.9,160.8 853.6,156.9 857.3,156.3ZM663.6,108.2 659.6,112.3 663.4,111.8 667.5,111.8 666.5,114.8 663.2,118.2 667,118.4 670.7,123.3 673.3,123.9 675.5,128.1 676.6,129.6 681.2,130.3 680.7,132.7 678.8,133.8 680.3,135.8 676.9,137.7 671.9,137.7 665.5,138.7 663.8,138 661.3,139.7 657.9,139.3 655.2,140.7 653.2,140 658.7,136.1 662.1,135.2 656.2,134.6 655.1,133.1 659.1,132 657,130 657.7,127.5 663.3,127.9 663.8,125.7 661.3,123.3 656.7,122.6 655.8,121.6 657.2,119.9 655.9,118.9 653.9,120.7 653.7,117.1 651.8,115.1 653.2,111.3 656.1,108.2 659.1,108.5ZM651.6,126.1 652.3,128.8 649.4,132.1 642.8,134.3 637.5,133.8 640.5,129.9 638.5,126.1 643.6,123.1 646.5,121.4 649.6,121.2 653.7,123.5ZM731.6,29.4 733.1,28 738.6,27.9 743.3,29.2 755.6,32 746.2,33.5 744.1,36.3 740.8,37 739.1,40.1 734.5,40.2 726.5,37.9 729.9,36.6 724.3,35.5 716.9,32.4 714,29.4 724.3,28.1 726.3,29.4ZM767.6,36.2 759.2,37.7 752.6,36.8 755.2,35.8 752.9,34.7 760.7,33.9 762.2,35.3ZM777.6,27.9 772.1,29.9 761.2,30.4 750.2,29.7 749.5,28.7 744.1,28.6 740,26.9 751.6,25.9 757,26.8 760.8,25.6 770.3,26.6ZM867.8,58.1 871.6,57.3 871.5,55.2 878.9,52 875.5,51.6 884.5,48.3 883.4,46.6 891.8,44.6 904.2,42.2 916.7,41.5 923.1,40.1 930.4,39.6 933,41.1 930.5,42.3 917.2,44.1 905.8,45.9 894.1,49.5 888.5,53.1 882.7,56.7 883.4,59.8 890.6,62.9 888.4,63.3 876.1,62.8 875.1,61.1 868.3,60.1ZM1049.6,32.3 1041.4,32.8 1030.9,31.7 1024.7,30.3 1021.9,27.6 1016.7,26.8 1026.5,24.3 1034.6,23.4 1041.9,25.3 1050.5,28.9ZM1068.8,34.5 1047.7,35.9 1054.5,31 1057.6,30.6 1060.5,30.8 1069.9,33ZM1195.4,42.6 1205.3,42.8 1218.9,44.8 1215.9,47.5 1202.1,47.4 1195.9,48.3 1188.4,45.9 1190.4,43.3ZM1222.7,46.2 1223.6,45 1230.6,45.6 1240,46.6 1235.7,48 1229.7,47.7ZM1207.5,51.1 1212.8,52.6 1213.3,53.6 1207.6,53.6 1199.9,53.2 1199.2,53 1202.8,51.5ZM1349.7,59.9 1345,61.5 1345.6,62.7 1349.7,62.5M0,59.9 0.5,59.8 3.7,59.8 9.1,60.9 8.8,61.4 4.9,62.3 0,62.5M866.6,26.1 861.6,26.5 858.2,26.8 857.7,27.4 853.3,28.1 849.2,27.2 851.4,26 843,25.9 850.3,25.2 856,25.2 856.8,26.2 859,25.3 862.5,24.7 868,25.5ZM1203.4,188.8 1202,191.8 1202.7,193.7 1200.7,196.3 1196,198.1 1189.4,198.3 1184,202.6 1181.5,201.1 1181.3,198.3 1174.8,199.2 1170.4,201 1166,201 1169.8,203.8 1167.3,210.1 1164.9,211.7 1163,210.3 1164,206.9 1161.6,205.8 1160.1,203.2 1163.6,202.1 1165.6,199.7 1169.3,197.8 1172.1,195.2 1179.6,194.1 1183.6,194.9 1187.5,188.2 1190,190 1195.5,186.2 1197.6,184.8 1200,180.2 1199.3,176 1200.9,173.6 1204.9,172.9 1206.9,178.1 1206.8,181.2 1203.4,185ZM1176.9,199.2 1179.7,200 1180.2,201.3 1178,203.6 1176.5,202.4 1174.6,203.2 1173.6,205.5 1171.1,204.4 1171.2,202.6 1173.2,200.4 1175.4,200.8ZM1214.4,162.5 1217.1,163.2 1219.7,161.7 1220.5,165.9 1215,166.9 1211.7,170.6 1205.8,168 1203.8,172.2 1199.6,172.2 1199.1,168.5 1200.9,165.6 1204.9,165.4 1206,160.2 1207.2,157.3 1211.5,161.2ZM1213.5,137.8 1217.2,144.4 1211.7,143.2 1209.4,148.6 1213,152.4 1212.9,155.1 1210.1,152.8 1207.6,155.7 1206.9,152.6 1207.3,148.9 1206.9,144.9 1207.8,142 1207.9,137 1205.7,133.3 1206.1,128.2 1209.6,126.5 1208.1,124.7 1209.7,124.2 1210.7,126.7 1212,130.3 1211.9,134ZM1131.5,236.6 1129.2,242.6 1127.6,245.7 1125.6,242.5 1125.2,239.7 1127.4,236.1 1130.4,233.2 1132.1,234.3ZM1088.6,258 1085.3,259.8 1082.3,258.7 1082.2,255.4 1084,253.8 1088.1,252.7 1090.3,252.8 1091.1,254.2 1089.4,255.9ZM981.5,299.9 981,303.8 979.4,304.8 976.1,305.7 974.3,302.7 973.7,297.3 975.4,291.2 978,293.3 979.7,296ZM1129.7,258.7 1132.1,259.8 1133.2,258.8 1133.6,259.8 1132.9,261.3 1134.2,264 1133.2,267.1 1131,268.3 1130.5,271.4 1131.3,274.3 1133.3,274.7 1134.9,274.3 1139.6,276.4 1139.3,278.4 1140.5,279.3 1140.1,281 1137.2,279.2 1135.8,277.3 1134.8,278.6 1132.4,276.4 1129,276.9 1127.2,276.1 1127.3,274.6 1128.5,273.6 1127.4,272.7 1126.9,274.1 1125.1,271.9 1124.5,270.3 1124.3,266.7 1125.9,268 1126.3,262.1 1127.5,258.7ZM1148.7,296.5 1149.1,299 1149.3,301.1 1148,304.6 1146.6,300.7 1144.9,302.6 1146.1,305.4 1145,307.1 1140.6,305 1139.6,302.2 1140.7,300.5 1138.3,298.7 1137.2,300.2 1135.4,300.1 1132.6,302.2 1132,301.1 1133.4,298 1135.8,296.9 1137.9,295.5 1139.2,297.2 1142,296.2 1142.6,294.5 1145.3,294.4 1145.1,291.5 1148.1,293.2 1148.4,295.1ZM1123,285.4 1123.6,288.5 1121.2,290.6 1119.2,293.1 1114.2,296.7 1116,294.1 1118.8,291.8 1121,289.1ZM1140.8,281 1144.4,281 1145.4,282.5 1146.5,286.6 1143.6,285.7 1143.6,286.9 1144.6,289.2 1142.8,290.1 1142.6,287.4 1141.5,287.2 1140.9,284.9 1143.1,285.2 1143.1,283.9ZM1139.7,289.5 1138.4,290.8 1137.2,293.1 1136,294.2 1133.7,291.7 1134.5,290.6 1135.4,289.6 1135.8,287.3 1137.9,287 1137.3,289.6 1140.1,286ZM1131.8,283.5 1134.1,284.6 1136.5,284.6 1136.4,286.2 1134.7,287.8 1132.3,288.9 1132.2,287.2 1132.4,285.2ZM1126,277.6 1129.2,277.7 1130.5,279.1 1129.5,282.3 1127.9,280.4ZM1116.8,312.5 1114.7,316 1117.5,319.5 1116.8,321.2 1120.9,324.7 1116.6,325.1 1115.3,327.7 1115.5,331.1 1111.9,333.6 1111.8,337.4 1110.4,343.1 1109.8,341.8 1105.5,343.5 1104.1,341.2 1101.4,341 1099.5,339.8 1095.1,341.1 1093.7,339.3 1091.2,339.5 1088.1,339 1087.6,334 1085.7,333 1083.9,329.8 1083.4,326.5 1083.8,323 1086,320.5 1086.7,323 1089.2,325.2 1091.6,321.1 1092.4,317.9 1094,317.2 1098.5,316.4 1101.2,313.5 1103,311.1 1104.8,313 1105.6,311.8 1107.4,311.9 1107.6,307.6 1110.6,305 1112.5,302.1 1114,302.1 1115.9,304 1116.1,305.6 1118.6,306.7 1121.7,307.8 1121.5,309.2 1118.9,309.4 1119.6,311.3ZM1032.1,307.5 1040.4,308.4 1043.7,312.1 1046.6,314.6 1048.6,316.2 1052.2,320.2 1056,320.3 1059.2,322.8 1061.4,326 1064.2,327.7 1062.7,330.7 1064.8,332 1066.2,332.1 1066.8,334.7 1068.1,336.8 1070.9,337.2 1072.7,339.5 1071.8,344.2 1071.6,350 1067.5,350.1 1064.3,347 1059.5,343.9 1057.9,341.6 1055.1,338.6 1053.2,335.7 1050.3,330.5 1047,327.4 1045.9,324.2 1044.6,321.2 1041.2,318.9 1039.2,315.7 1036.4,313.6 1032.5,309.4ZM1082.1,353.5 1089.3,353.9 1090.1,352.3 1097.1,354.1 1098.5,356.5 1104.1,357.2 1108.7,359.4 1104.4,360.9 1100.3,359.4 1096.9,359.5 1093,359.2 1089.5,358.5 1085.2,357.1 1082.4,356.7 1080.8,357.2 1074,355.6 1073.3,354 1069.9,353.7 1072.5,350.2 1077.1,350.4 1080.1,351.9 1081.6,352.1ZM1144.4,322.7 1141.4,326.5 1138.6,327.2 1135,326.5 1128.8,326.6 1125.5,327.2 1124.9,330 1128.3,333.3 1130.3,331.7 1137.3,330.4 1137,332.1 1135.4,331.6 1133.7,333.8 1130.5,335.2 1134,340 1133.3,341.3 1136.7,345.6 1136.6,348.1 1134.6,349.2 1133.2,347.9 1135,344.8 1131.3,346.2 1130.4,345.2 1130.9,343.8 1128.2,341.6 1128.4,337.9 1126,339 1126.3,343.4 1126.4,348.8 1124,349.3 1122.4,348.2 1123.5,344.8 1122.9,341.1 1121.3,341.1 1120.2,338.6 1121.7,336.1 1122.2,333.1 1124.2,327.5 1124.9,325.9 1128.1,323.2 1131.1,324.3 1135.8,324.8 1140.1,324.6 1143.8,321.9ZM1157.4,323.8 1157.2,327.1 1155.2,326.7 1154.7,329 1156.2,331 1155.2,331.4 1153.7,329.1 1153.3,325.1 1154.8,322 1154.5,319.9ZM1164,339.6 1165.4,342.5 1162.2,341 1159.1,340.7 1157,340.9 1154.4,340.8 1155.3,338.7 1159.9,338.6ZM1152,341 1150.5,342.3 1148,341.6 1147.2,340 1151,339.8ZM1143.4,361.4 1143.9,360.5 1147.1,359.7 1149.7,359.6 1150.9,359.1 1152.3,359.6 1150.9,360.6 1147,362.2 1143.9,363.3 1141.4,366.1 1138.2,366.9 1137.8,366.5 1138.1,365.2 1139.7,362.9ZM1116.9,358.4 1118.3,359.4 1120.6,359.1 1121.5,360.7 1117.2,361.5 1114.6,362 1112.6,361.9 1113.8,359.8 1115.9,359.7ZM1135.7,358.4 1135.1,360.5 1129.5,361.5 1124.5,361.1 1124.5,359.7 1127.5,359 1129.8,360.1 1132.3,359.8ZM1120.9,363.9 1124.4,363.2 1126.4,364.3 1127.7,365.4 1127.5,366.5 1125.9,366.5ZM1177.8,332.4 1178.9,338.4 1182.8,340.7 1185.9,336.7 1190.2,334.4 1193.5,334.4 1196.7,335.7 1199.5,337.1 1203.5,337.8 1210,340.4 1216.9,342.5 1219.5,344.4 1221.6,346.4 1222.2,348.6 1228.5,350.9 1229.4,352.8 1225.9,353.3 1226.7,355.8 1230.1,358.2 1232.5,362.2 1234.7,362.1 1234.5,363.7 1237.4,364.4 1236.3,365.1 1240.3,366.6 1239.9,367.7 1237.4,368 1236.4,367 1233.2,366.6 1229.4,366 1226.5,363.6 1224.4,361.6 1222.5,358.3 1217.5,356.7 1214.4,357.8 1212.1,359 1212.6,361.7 1209.6,363 1207.5,362.4 1203.6,362.3 1200.3,359.2 1196.5,358.4 1195.6,359.5 1190.8,359.6 1192.4,356.6 1194.8,355.5 1193.8,351.4 1192,348.3 1184.7,345.1 1181.6,344.8 1176,341.3 1174.9,343.1 1173.5,343.5 1172.6,342.1 1172.6,340.5 1169.7,338.6 1173.8,337.3 1176.5,337.4 1176.2,336.3 1170.6,336.3 1169.2,334.1 1165.8,333.4 1164.2,331.6 1169.3,330.7 1171.2,329.5 1177.2,331ZM1242.1,350 1240.1,350.9 1238.2,351.8 1236.2,351.8 1233.1,350.7 1231,349.6 1231.3,348.5 1234.6,349 1236.7,348.7 1237.8,346.8 1238.2,348.8 1240.3,348.5 1241.4,347.2 1243.5,345.9 1243,343.7 1245.3,343.6 1246,344.2 1246,346.3 1244.7,348.6 1242.7,348.9ZM1239.7,338.3 1240.8,337.4 1242.8,338.5 1244.1,339.3 1245.7,340.2 1247.2,341.8 1248.6,343 1249,344.9 1247.9,345.9 1247.2,343.7 1246.3,342.3 1244.6,341 1242.4,339.5ZM1255.1,348.1 1256.2,348.9 1258.1,351.3 1259.8,352.6 1259.3,353.6 1258.3,354 1256.7,352.6 1255,350.2 1254.2,347.3 1254.7,347ZM1261.8,352.8 1264,354.4 1265.5,355.6 1264.8,355.8 1263.1,355 1261.6,353.4ZM1273.4,358.1 1274.3,359.3 1274.5,360.1 1271.5,358.5 1269.5,357.1 1268,355.9 1268.6,355.5 1270.3,356.4ZM1277.9,365.1 1276.5,365.2 1274.2,364.8 1273.4,364.2 1273.6,362.7 1276.1,363.3 1277.3,364.1ZM1281.1,364.1 1280.5,364.7 1277.7,361.5 1276.9,359.3 1278.2,359.3 1279.6,362.3ZM1282.7,367.4 1283.8,368.7 1281.1,368.6 1279.7,366.3 1282,367.2ZM1301.8,387.6 1304.2,389.8 1303,390.3 1301.7,388.7ZM1300.2,386.8 1299.7,385.8 1299.6,382.9 1301.4,384 1302,387.1 1301,386.6ZM1296.4,407.1 1299.5,409.4 1301.5,411.1 1300,412 1298,411 1295.3,409.3 1292.9,407.4 1290.4,404.7 1289.9,403.5 1291.5,403.5 1293.6,404.8 1295.2,406ZM1343.6,393.1 1344.9,394.2 1344.3,396.1 1342,396.6 1339.9,396.2 1339.6,394.5 1341,393.2 1342.7,393.7ZM1213.1,379.7 1214.5,382.6 1216.9,381.2 1218.1,382.8 1219.9,384.2 1219.5,385.9 1220.4,389.1 1220.9,391 1221.9,391.5 1222.9,394.7 1222.5,396.6 1223.7,399.2 1227.8,401.1 1230.4,402.9 1233,404.5 1232.5,405.4 1234.6,407.8 1236.1,411.8 1237.6,411 1239.1,412.6 1240,412 1240.6,416 1243.3,418.3 1245,419.8 1248,422.8 1249,425.8 1249.1,427.9 1248.9,430.3 1250.7,433.5 1250.4,436.8 1249.8,438.5 1248.8,441.9 1248.9,444 1248.1,446.7 1246.5,450.1 1243.7,451.9 1242.3,454.9 1241.1,456.7 1239.9,459.9 1238.5,461.8 1237.6,464.6 1237.1,467.2 1237.3,468.4 1235.1,469.7 1230.9,469.8 1227.4,471.4 1225.7,472.8 1223.5,474.4 1220.4,472.7 1218.1,472.1 1218.6,470.2 1216.6,470.9 1213.3,473.6 1210.1,472.6 1207.9,472 1205.8,471.7 1202.2,470.6 1199.7,468.3 1199.1,465.4 1198.2,462 1196.3,462 1192.7,461.6 1194,459.8 1193.1,457 1191.2,459.6 1187.9,460.3 1189.8,458.2 1190.4,456 1191.9,454.2 1191.6,451.4 1188.5,454.6 1186.2,455.9 1184.7,458.9 1181.8,457.3 1181.9,455.4 1179.6,452.6 1177.6,451.2 1178.3,450.4 1173.5,448.1 1170.9,448 1167.3,446.2 1160.6,446.5 1155.7,447.9 1151.4,449.1 1147.8,448.9 1143.9,450.8 1140.6,451.6 1139.9,453.6 1138.5,455.1 1135.3,455.2 1133,455.5 1129.7,454.9 1127,455.3 1124.4,455.5 1122.2,457.5 1121.1,457.3 1119.2,458.4 1117.4,459.5 1114.7,459.4 1112.2,459.4 1108.1,457 1106.2,456.3 1106.2,454.1 1108.1,453.6 1108.7,452.8 1108.6,451.4 1109,448.8 1108.6,446.6 1106.6,442.8 1106,440.7 1106.2,438.5 1104.7,436.1 1104.6,435 1102.9,433.5 1102.5,430.5 1100.3,427.6 1099.8,426 1101.5,427.6 1100.2,424.1 1102.1,425.2 1103.2,426.7 1103.1,424.8 1101.2,421.8 1100.9,420.6 1100,419.5 1100.4,417.3 1101.2,416.4 1101.7,414.5 1101.3,412.3 1102.9,409.6 1103.2,412.5 1104.7,409.9 1107.8,408.7 1109.6,407.1 1112.5,405.7 1114.2,405.4 1115.2,405.9 1118.2,404.4 1120.4,404 1121,403.2 1122,402.9 1124.1,403 1128,401.8 1130,400.2 1131,398.2 1133.2,396.3 1133.4,394.8 1133.4,392.7 1136.1,389.6 1137.6,392.8 1139.3,392.1 1137.9,390.3 1139.1,388.5 1140.8,389.3 1141.2,386.4 1143.3,384.6 1144.2,383.1 1146,382.5 1146.1,381.4 1147.8,381.9 1147.8,380.9 1149.5,380.4 1151.3,379.9 1154,381.6 1156.1,383.8 1158.5,383.9 1160.9,384.2 1160.1,382.1 1161.9,379.1 1163.6,378.2 1163,377.2 1164.6,375.1 1166.9,373.7 1168.8,374.2 1172,373.5 1171.9,371.6 1169.1,370.3 1171.1,369.8 1173.6,370.7 1175.6,372.3 1178.7,373.2 1179.8,372.8 1182.2,374 1184.3,372.9 1185.8,373.2 1186.6,372.5 1188.3,374.4 1187.4,376.4 1185.9,377.9 1184.6,378 1185.1,379.5 1184,381.4 1182.6,383.3 1182.9,384.3 1185.9,386.4 1188.8,387.6 1190.7,388.9 1193.4,391.1 1194.5,391.1 1196.4,392 1197,393.2 1200.6,394.5 1203.1,393.2 1203.8,391.2 1204.5,389.5 1205,387.5 1206.1,384.5 1205.6,382.7 1205.9,381.6 1205.5,379.4 1206,376.6 1206.7,375.8 1206.1,374.6 1207,372.6 1207.7,370.5 1207.8,369.5 1209.2,368.1 1210.3,369.9 1210.5,372.2 1211.5,372.7 1211.6,374.3 1213,376.2 1213.3,378.3ZM1228.6,481.1 1230.9,481.3 1231.1,485.8 1229.8,487.1 1229.4,490.1 1228.1,489.1 1225.5,491.6 1224.7,491.5 1222.5,491.3 1220.1,488.1 1219.6,485.6 1217.5,482.4 1217.5,480.7 1220,481 1223.6,482.3 1225.7,481.8ZM1338.1,478.3 1336.7,480.3 1334.8,482.9 1331.9,484.4 1331.3,483.4 1329.7,482.8 1331.9,479.8 1330.6,477.7 1326.6,476.2 1326.7,474.8 1329.4,473.5 1330,470.6 1329.9,468.2 1328.3,465.7 1328.5,465 1326.7,463.5 1323.7,460.2 1322.2,457.5 1323.5,457.2 1325.6,459.3 1328.5,460.3 1329.5,463.6 1332.3,467.6 1332.3,465 1334,466 1334.6,468.9 1337.6,470.1 1340.1,470.4 1342.3,469 1344.2,469.4 1343.3,472.7 1342.1,474.9 1339.3,474.8 1338.3,476 1338.6,477.6ZM1311,491.4 1314.2,489.4 1316.5,487.4 1318.1,484.7 1319.6,483.7 1320.1,481.6 1322.8,479.9 1323.6,481.5 1324.4,483 1327.1,481.5 1328.2,483.1 1328.2,484.7 1326.8,486.4 1324.3,489.2 1322.4,490.7 1323.8,492.5 1320.9,492.5 1317.7,493.9 1316.7,496.4 1314.6,500.2 1311.6,501.9 1309.7,502.9 1306.3,502.9 1303.9,501.6 1299.8,501.4 1299.2,500 1301.2,497.2 1305.9,493.5 1308.3,492.8ZM860.6,374.8 861.6,376.4 862.6,378.9 863.2,383.4 864.1,385.2 863.8,387 863.1,388.1 861.8,385.8 861.1,387 861.8,389.7 861.5,391.4 860.5,392.2 860.2,395.4 858.7,399.7 856.9,404.9 854.6,412 853.2,417.2 851.5,421.6 848.4,422.5 845.1,424 843,423.1 840,421.8 838.9,419.8 838.7,416.4 837.4,413.5 837,410.8 837.7,408.1 839.4,407.4 839.5,406.2 841.2,403.3 841.6,400.9 840.7,399.2 840,396.8 839.7,393.3 841,391.2 841.5,388.9 843.4,388.7 845.5,387.9 846.9,387.3 848.5,387.2 850.6,385.1 853.8,382.8 854.9,380.9 854.4,379.3 855.9,379.7 858,377.1 858.1,374.9 859.3,373.2ZM733.1,184.7 731.7,187.7 732.3,188.9 731.5,190.8 728.6,189.3 726.7,189 721.5,187.1 722,185.1 726.4,185.5 730.2,185.1ZM709.4,173.6 711.7,176.2 711.1,181.2 709.4,180.9 707.9,182.2 706.5,181.2 706.3,176.7 705.5,174.5 707.5,174.7ZM710.7,170 709.5,172.9 707.8,172.2 706.9,169.6 707.7,168.2 710.1,166.8ZM763.7,194.2 765.8,195.5 768.7,195.3 771.5,195.5 773.4,195.7 773,196.8 767.6,197.1 767.6,196.5 763,195.8ZM797.6,196.3 798.4,195.4 801.1,195.5 804.5,194.3 802,195.9 802.2,196.6 798.5,198.5 796.7,198 795.8,196.5ZM933.3,510.4 935.7,511.6 939.3,512 939.4,512.8 938.4,514.4 932.6,514.7 932.5,512.7 933.1,511.1ZM721.3,117.7 722.5,119.6 720.2,122.6 716.3,120.5 715.7,118.9ZM0,645.7 0.2,645.7 3.5,643.5 10.3,644.7 10.7,644.6 14.7,643.4 15.6,643.5 21.1,645 25.8,643.5 26.7,643.2 37.7,642.6 41.2,643.5 43,643.9 48.7,645.1 59.3,646.1 67.7,647.3 82.2,648.1 93,647.1 109,647.9 118,649 127.9,648 138.3,646.9 139.1,645.1 124.4,645 112.3,644.1 109.1,642.6 99,641.8 99.7,640.2 101.1,638.6 102.5,637.2 101.8,635.7 95.5,634.6 92.6,633.3 86.8,632.1 95.9,632.4 104.6,631.8 110,633 116.7,631.9 122.9,630.5 125.9,629.3 124.6,627.7 119.8,626.7 114.2,625.6 106.5,625.4 99.8,624.9 92.5,624.5 90.1,623.1 85.2,621.9 82.3,620.6 81.1,616.3 82.9,616.7 86.3,617.9 92.5,617.5 98.5,617 101.5,618.6 107.5,618.3 112.5,617.4 117.2,616.4 121.4,615.2 127.1,614.8 127,613.4 125.6,612 126.7,610.7 131.6,610 133.8,611.3 139.5,610.5 143.8,609.6 149.2,609.5 154.2,609.1 159.3,608.2 163.4,607.5 167.9,606.6 170.9,606.9 173.4,607.2 179,606.6 184,607.3 189.2,607.2 194.1,606.7 199.1,607.1 204.7,607.5 209.9,607.3 215.4,607.4 220.9,607.5 226.1,607.3 229.9,606.2 234.4,605.6 239.1,606.4 243.6,605.8 247.7,604.4 250.1,605.6 251.4,606.9 253.8,608.2 257.7,607.1 262.2,608.5 267.3,608.9 271.6,609.9 276.9,609.7 281.6,609.1 287.3,609.2 292.4,609.7 297.5,610.4 299.5,608.8 297.1,607.5 295.3,606.2 290.4,605.9 288.3,604.5 287.5,603.1 286.1,600.3 289,600.8 293.9,601 298.8,600.8 303.2,601.4 307,602.5 308.6,603.9 313.7,604.1 318.5,603.6 323.7,602.8 328.3,602.4 332.1,603.3 337.1,603 340.3,600.1 343.4,601.8 347.7,602.5 352.4,602.1 355.5,603.6 360.4,603.7 364.9,604.2 369.4,604.9 372.3,603.6 373.8,602.2 377.6,603.7 382.7,603.3 386.5,604.2 389.1,605.4 394.1,605 398,604.2 401.8,603.3 406.3,602.7 411.6,602.3 416.4,601.8 420.1,601 422.3,599.8 423.2,598.2 422.7,596.7 421.6,595.2 420.2,593.7 419.1,592.2 418.1,590.9 417.9,589.5 418.2,588 420,586.6 421.5,585 422.1,583.6 421.3,582 420.9,580.5 422.7,578.8 424.8,577.7 427.2,576.3 429.8,575.1 432.8,574 434.2,572.4 436.3,571.4 438.7,570.4 442.3,570.2 444.6,569 447.3,568.3 450.3,567.9 453.1,566.9 455.2,565.7 458.1,565.3 460.3,566.3 458.9,567.5 455.1,568.6 453.5,569.4 450.7,568.8 447.6,569.2 445,570 442.3,571 440.5,572.1 440,573.6 440.2,575 442,576.2 439.4,577.1 435.9,577.4 433.8,578.7 431.6,579.8 429.3,581.4 428.7,582.8 430,584.4 432,585.6 435.1,586.4 437.9,587.6 439.5,589.1 440.3,590.5 441.4,591.9 443.1,593.2 444.3,594.6 444.7,598.1 445.9,599.4 446.2,600.9 447.3,602.4 446.8,604.4 444.7,605.9 442.6,607.2 437.5,607.7 435.9,609 433.6,610.2 427.9,611.7 423,612.2 418.2,613 413.2,613.8 410.2,615.4 404.1,615.5 397.5,615.4 391.6,615.7 385.3,615.7 386.4,617.1 392.2,617.8 396.4,618.9 398.7,620.2 394.5,621.3 388.1,621 382.7,621.9 382.4,624.9 386.7,626.2 387.6,627.6 392.3,629 400.3,629.6 407,630.6 412.4,631.8 419.2,633 428.5,633.5 437.7,634.6 444.1,635.7 451.1,636.9 454.8,638.7 456.6,640.1 461.1,638.8 467.3,637.6 473.8,636.5 481.6,635.5 488.3,634.5 497.6,634.4 506.8,634.9 514.4,635.8 516.8,634.2 522,633.1 531.5,633 538.9,632.2 545.9,631.4 553.7,630.9 562,630.2 567.8,629.3 565.2,628 563.6,626.6 563.6,625.2 556.3,625.4 548.6,626 541.2,626 540.2,624.6 540.7,621.8 542.4,621 547.8,620.1 554.1,619.2 563.2,617 566.6,615.5 571.7,614.9 576.8,614.4 579.4,614.1 585.2,613.9 590.7,613.4 595.3,612.7 599.8,611.8 604,610.9 609.2,609.7 612.5,608.5 616,607.4 617.1,605.9 613.1,605 614.5,603.5 616.9,602.3 620.8,601.6 625,600.7 628.8,599.5 631.7,598.1 633.6,596.3 636.3,595.3 640.8,595.5 642.6,596.7 647.1,596.9 647.2,595.5 649.1,594 653.2,594.4 654.1,595.8 658.6,596 663.4,595.4 668.1,594.9 672.4,595.1 674,596.7 678.1,595.4 682,594.8 686.2,594.2 690.4,593.7 694.2,592.8 698.4,592.2 701.6,591.5 703.9,590.1 706.7,591.1 710.6,590.6 713.3,592.3 715.4,593.6 719.7,592.9 721.4,591.5 725.2,590.4 730.1,590.6 731.6,592 734.7,590.6 738.7,590.2 743.1,590 747.1,590.1 751.3,590.6 755.3,590.8 757.1,592 759.5,593.1 763.6,592.5 768,592.3 772.3,592.3 776.4,592.2 780.2,591.7 784.2,591.3 787.5,590.3 791,589.6 794.8,589.2 797.7,588.2 799.7,586.2 801.9,584.9 805.8,585.5 807.2,586.8 810.4,587.7 814.3,587.4 817,588.7 819.8,589.7 823.6,588.8 824.9,587.2 828.3,586.5 832.2,585.3 835.9,584.7 840.3,584 843.2,583.2 846.3,582.3 849.2,581.5 852.7,582 856.1,580.7 858.6,579.6 862.1,579.7 865.1,578.8 865.9,577.5 869,576.5 872.1,575.7 875.9,575.1 879.3,574.8 882.6,575.1 886.2,575.4 889.2,576.5 889.6,578.1 892.9,579.3 895.1,580.4 899.6,580.8 902.1,581.8 905.2,582.8 908.8,583.1 911.8,582.3 915,580.8 918.5,581.6 922.2,582 925.7,582.5 929.4,582.8 933.2,582.8 936.2,586.7 936.1,587.6 935.7,589.3 932.1,590.3 929.1,591.7 929.6,593.1 933.8,593.1 933.3,594.5 931.4,595.9 929.6,597.5 932.5,598.7 936.8,599 941.1,598.4 943.2,596.9 944.5,595.5 946.5,594.3 948.9,593.2 949.8,591.9 951.8,590 954.2,589.7 958.4,589.5 962.2,589.1 966,588.5 967.8,587 968.9,585.6 971.5,584.3 975.2,583.3 978.3,582.6 980.4,581.3 982.5,580.7 985.2,580.1 989,580.4 992.4,580.1 996,579.6 1000.1,579.8 1002.9,578.8 1004.8,576.3 1006.2,577.3 1007.9,579.1 1011.1,579.8 1014.7,580.1 1018.3,579.7 1022.1,580 1025.6,580.1 1028,579.7 1031.1,579.9 1034,580.7 1037.4,580.2 1041.4,580.2 1044.9,579.7 1048.8,580.2 1051.2,579 1053.1,577.7 1055.7,576.7 1060.4,573.9 1062.9,574.4 1065.7,575.4 1068.2,576.8 1073,579 1076.6,579.1 1080.1,579.1 1084.1,578.7 1088.2,578.1 1091.3,577.1 1093.8,576 1098,575.9 1100.8,575.1 1103.8,575.8 1105.7,577 1108.3,578.1 1112.4,578 1115,579 1119.5,579.9 1124.2,580.3 1128.1,580 1131,578.8 1133.5,577.6 1136.9,577.3 1140.2,577.8 1144.1,578.2 1147.7,577.6 1151,577.6 1154.3,578 1157.8,578.4 1161.2,577.7 1165.2,577.1 1169,577 1173.3,577 1176.8,576.6 1180.1,576.3 1181.1,574.5 1181.3,572.9 1183.7,573.9 1184.3,575.6 1185.6,577.2 1187.1,578.4 1190.3,579.1 1194.5,578.9 1199.4,578.8 1202.8,578.6 1207.7,578.6 1211.2,578.5 1216.2,578.7 1220.4,579 1223,580.1 1222.3,581.5 1224.7,582.6 1228.7,583.5 1232.9,584.5 1237.8,585.1 1242.8,585.7 1246.6,586.3 1250.9,586.4 1253.3,585.1 1256.7,586.2 1259.5,587.3 1262.8,588.2 1267.4,588.6 1271.7,589 1273.5,590.5 1277.8,591.4 1280.6,592.7 1284.8,593.3 1289.2,593.2 1293.2,593.4 1297.7,593.4 1302.2,593.6 1306.4,594.2 1310.2,595.1 1314.1,595.8 1316.8,596.9 1316.3,598.4 1314.4,599.7 1312.7,601.3 1311.4,602.7 1309.6,604.2 1304.7,604.8 1302.5,606.1 1297.6,606.9 1295.9,608.4 1293.4,609.8 1290.6,611 1289.1,612.5 1288.1,613.9 1287.8,615.6 1287.8,617 1290,618.5 1290.8,619.9 1292.5,621.2 1299.5,621.7 1301,623.3 1294.2,623.9 1288.5,624.7 1281.4,624.9 1278.2,627 1277.6,628.8 1276,630.1 1274,631.6 1279,632.8 1280.9,634.3 1284.1,635.7 1288.7,637 1293.9,638.2 1299.5,639.3 1308.1,640.5 1310,642.4 1320.8,643.2 1321.6,643.5 1324.3,644.5 1334.7,643.6 1343.3,644.8 1349.7,645.7M61.1,622.8 63.3,621.3 70.3,621.9 74,623.1 76.9,624.4 77.9,626.1 70.7,626.6 65.8,625.3 63.6,624ZM418.2,594.1 418.7,595.8 418,597.3 417,598.7 412.6,599.2 408.4,599.9 403.5,599.8 405.3,598.4 396.7,599.4 393.9,598.3 393.6,596.7 397.7,595.3 400.3,594.8 404.7,595 405.7,593.1 406,591.7 405.9,588.7 408,586.9 411.5,586.3 413.5,587.7 414.3,589.1 415.9,590.8 417.2,592.4ZM291.2,597.6 293.6,597 298.3,597.5 303.8,597.8 307.9,598.3 312,597.8 314.2,600 311.3,599.7 306.7,599.8 302.1,599.7 297,599.9 293.2,599.2ZM215.1,604.2 215.9,603 220.4,603.6 225.3,604.2 229.8,603.6 227.6,604.9 224.1,605.8 218.9,605.5ZM197.7,603.5 200.4,602.7 204.1,603.6 209.8,605 207.6,604.9 202.8,604.5ZM451.5,628.2 450.4,630.1 449.3,631.8 441.4,631.2 433.1,631.5 428.4,630.2 426.3,629 434.8,629.1 442.9,629.5 445.6,627.9 447.6,626.6ZM505.6,620.7 510.2,622.3 511.8,624.6 512.3,626.2 512.4,628.1 506.6,629.3 500.5,630.2 493.4,631.1 485.6,631.9 476.7,631.6 471.8,630.4 472.4,628.8 480.5,627.8 483.7,626.5 486.1,624.9 487.7,623.5 490,622.2 492.4,620.7 494.3,620.7 499.9,619.9Z"/></defs>
<text x="744" y="107" font-size="50" text-anchor="middle" xml:space="preserve">Combined (GIM), 2021-01-21 03:00 UT</text>
<g transform="translate(78.5,132.5)"><g clip-path="url(#mc)">
<rect x="0" y="0" width="1331" height="655.9" fill="#0000a4"/>
<path fill="#0000ed" fill-rule="evenodd" d="M667.4,-4 668,-4 983.5,-4 972,9.2 964,15.3 956,18.2 940,21.9 924,22.2 912,23.7 896,22.2 876,22.4 832,25.4 804,24.2 744,17.5 696,10.2 680,8.9 676,8 669.7,4 667.7,0ZM1061,12 1064,11.1 1068,11.5 1080,14.4 1104,11.3 1144,17.6 1232,22.3 1312,30 1336,34.1 1336,660 -4,660 -4,36.6 20,41.4 36,45.7 69.6,56 88,62.9 114.1,76 192,121.8 214,132 236,139.9 260,145.6 296,151.1 356,156.3 384,157.1 436,153.1 484,145 540,128.5 604,106.2 636,98.5 708,89.5 736,87.4 776,87.1 796,85.9 833.3,80 864,72.5 892,64.2 928,50.1 944,44.8 951.5,40 960,31.4 968,27.2 984,24.4 1004,18.9 1024,16.7 1048,16.5Z"/>
<path fill="#0020ff" fill-rule="evenodd" d="M1190.5,56 1209.4,56 1312,68.1 1336,67.8 1336,660 -4,660 -4,67.5 0.2,68 10.6,72 68,98.9 92,113.7 112,130 124,138.4 136,145.2 156,154.3 200,168.2 248,181.2 264,184.3 280,185 348,178.7 384,177.2 480,165.5 540,153.9 568,147.2 616,137.4 680,132.4 696,132 716,134.1 764,145.7 780,148.3 796,149.2 820,147.3 852,141.3 900,127.8 960,104.2 976,96.1 1000,81.6 1016,76.7 1076,64.8 1100,61.3 1128,59.2 1172,60.1 1180,59.1Z"/>
<path fill="#0060ff" fill-rule="evenodd" d="M1026.4,116 1060,113.1 1088,112.2 1140,112.8 1176,115.6 1196,113.9 1224,114.8 1252,119.7 1272,122.1 1292,126.9 1312,129.7 1336,135.8 1336,660 1074.6,660 1028,654.4 964,648.8 824,644.5 768,646.2 736,648.4 684,647 676,648.3 668,650.8 652.3,660 -4,660 -4,137.4 36,141.5 64,149.2 173.3,196 192,205.8 208,211.5 220,217.2 232,220.8 248,227.5 268,232.9 276,234.1 284,234.1 296,230.8 336.8,208 360,201.4 412,192.5 472,186.4 516,180.7 560,177.3 572,177.6 582.2,180 588.2,184 604,202.3 612,207.4 620,210.2 628,211.3 636,211.3 684,205.2 700,204.5 720,206.6 745.4,212 756.8,216 758.5,220 752,222.5 724,229.9 704,240.4 666.3,268 652,276 648,280.7 646.9,288 648.3,292 652,296.5 658.1,300 680,309 688,314 693.6,320 697.4,328 697.4,336 694.8,344 690.6,352 680.8,364 672,372 666.3,380 665.1,388 665.9,392 668,395.5 672,398.4 676,399.6 684,399.1 696,396.4 708,395.8 716,396.2 726.5,400 732,403.6 736.1,408 756,439.9 760,443.8 764,445.3 768,443.6 780,432.2 800,408.8 808,396.6 812,389.5 815.8,380 826.1,348 832.2,336 840,324.9 841.6,320 844.2,308 847.3,284 848.2,252 846.2,240 844,233.9 840,227.2 826.1,212 824.8,208 825.1,204 829.8,196 834.1,192 846.3,184 872.3,172 952,144.2 972,135.8 988,127.1 1004,120.4 1012,118.1ZM760,458.6 748,467.4 715,496 692,511.5 676,519.4 656,527 632,533.6 620,539.6 612,542.3 592,543.7 572,550.1 552,551.2 536,555.2 516,557.1 509.1,560 506.8,564 508,567.6 516,572.9 524.8,576 542.5,580 584,588.4 604,590 624,592.9 636,593 656,591.2 664,589.1 680,582.5 712,568.3 768,540.8 796,521.7 802.3,516 808.9,508 811,500 810.5,496 808.6,492 805.3,488 796,480.1 768,460.3 764,458.2Z"/>
<path fill="#00a0ff" fill-rule="evenodd" d="M1043.9,140 1096,139.4 1124,142.3 1152,142.4 1172,144.7 1192,141.1 1208,140.7 1236,144.5 1252,145.7 1292,151.9 1308,155.5 1328,157.5 1336,159.3 1336,633.8 1304,634.6 1280,633 1256,633.3 1204,631 1132,630.2 1088,628.1 1036,623.1 988,616 960,610.7 924,606.1 896,605.1 868,602.1 800,601.9 776,600.3 768,598.3 764,596.2 760.4,592 759.5,588 760.8,584 763.7,580 768.4,576 779.9,568 796,558.9 852,523.4 872,512.9 936.8,492 944.1,488 946.2,484 944.7,480 940.4,476 932.7,472 904,461.8 888,458.5 864,455.2 856,453.1 847.5,448 844.8,444 843.6,440 845.1,432 858,408 861.7,396 866.7,360 874.7,324 881.6,284 888,258.2 896,234.4 904,218.7 916,203.4 933.2,188 948,177.7 968,167.1 1000,146.8 1009.4,144 1024,141.3ZM-4,164 -4,161.7 8,163.6 24,163.7 47.8,168 60,172 78.5,180 104,195.1 132.1,216 137.5,224 142.2,240 144.4,244 152.1,252 158.1,256 172,262.5 200.9,272 232,278.3 264,282.2 288,283.7 328,283.1 340,283.8 376,292.3 388,293.8 408,292.5 424,289.4 448,286.4 476,287.4 500,291.8 544,304 592,314.7 624,325.1 640,326.5 647,328 653.2,332 651.9,336 648,338.3 640,341.2 620,342.8 612,345 588.2,360 556,378.2 536,386.6 524,389.1 512,389.7 484,387.1 468,386.7 460,387.8 452,390.2 444,394.4 437.7,400 432.3,408 429.7,416 429.9,424 431.5,428 434.9,432 440,435.1 452,438.6 496,445.6 512,450.2 524,457.6 541,472 556,479.8 584,487.4 600,488.8 608,491.7 613.1,496 614.7,500 614,504 611.1,508 603.8,512 596,514.5 580,516.5 564,521.4 548,522.5 528,527 512,527.3 504,528.3 464,537.5 444,545.1 438.9,548 430.6,556 428.7,560 428.6,568 430.5,572 435,576 472,592.9 488,599.1 506,608 512.2,612 516.1,616 517.4,620 517.2,624 515.3,628 512,630.7 508,632.1 484,634.5 476,633.4 460,628.8 448,627.6 412,626.4 388,624.1 348,625.1 244,616.8 212,615.5 192,615.7 164,617.7 92,627.6 40,632.7 12,634.3 -4,633.9Z"/>
<path fill="#00e0fb" fill-rule="evenodd" d="M1136.2,200 1164,196.9 1172,197.2 1180,199.5 1192,204.8 1200,206.6 1240,206.2 1264,208.2 1304,213.6 1336,220.3 1336,491.5 1320,488.4 1252,483.7 1212,478.4 1200,478.1 1176,479.5 1164,478.9 1104,470 1048,458.6 1000,446.7 984,441.2 976,437.5 968.5,432 964.7,428 960.9,420 956,400 952.7,392 925.6,352 920,340 916.3,328 914.3,312 915.8,288 920.9,268 928,255.1 936,246.4 948,238.3 960,233 980,226.9 1008,221.7 1048,218 1076,214.1 1120,202.8ZM-4,224 -4,223.1 12,226.6 40,234.2 128,271.2 156,281.1 204,294.1 296,313.8 312,318.4 324.5,324 329.6,328 332,332 336,343.2 339.3,348 357,368 362.8,376 367.1,384 369.4,392 368.8,404 365.8,412 356.8,424 336.7,440 333.4,444 331.8,448 331.9,452 333.8,456 339.5,460 349.8,464 384,473.7 440,480.8 452,483.5 459.2,488 461.9,492 462.4,496 460.9,500 457.2,504 450.6,508 424,520.6 402.8,536 376,552.8 356,563 340,568.7 332,570.1 320,569.4 256,556.7 208,549.2 180,546.8 160,547 152,548.8 146.5,552 144,554.6 141,560 136.8,576 132,583.9 121.8,592 113.8,596 92,602.2 68,604.5 50.7,608 24,610.3 -4,610.7 -4,534.4 24,533.3 36,531.2 44,527.2 46.5,524 46.5,520 44,515.6 33.6,508 14.8,500 -4,494.3ZM464.2,324 476,322.3 492,321.9 520,324.8 528,327.4 532,330 535.7,336 535.8,340 534.3,344 531.1,348 524,352.4 516,354.7 500,355.5 472,351.4 460,348 456,346 452.8,344 449.9,340 449.4,336 451.2,332 455.5,328ZM993.6,524 1024,520.7 1052,522.6 1080,521.1 1104,523 1148,524.5 1204,528.8 1244,529.7 1276,534.1 1296,533.9 1316,535.9 1336,534.7 1336,610 1268,605.1 1208,592.6 1180,583.4 1172,582 1156,583 1104,592.9 1080,595.5 1052,595.8 1028,593.3 1006.6,588 988,581.8 972,578.4 896,566.4 888.2,564 884,561.4 880.3,556 881.2,552 885.1,548 891.4,544 924,533.3 944,530.6 964,526.3Z"/>
<path fill="#30ffc7" fill-rule="evenodd" d="M1158,208 1168,207.1 1176,208.1 1196,216.2 1236,215.3 1260,217.1 1300,223 1336,229.9 1336,454.4 1328,451.6 1320,450.5 1280,451.1 1228,447.7 1208,444.6 1176,443.5 1164,441 1120,427.4 1092,417.3 1064,405.6 1036,392.4 1008,377 992,366.5 976,354 960,338 952.5,328 948.2,316 946.8,304 947.8,292 952,280 961.2,268 992,243.6 1000,239.5 1016,234.9 1080,224.1 1124,213ZM-4,236 -4,232.6 32,242.7 60,254.3 108,276.5 135.9,288 168,298.7 242.4,320 263.2,328 280,338 290.7,348 299.6,360 311.1,380 314.1,388 314.4,392 312,399 308,403.8 284,418.2 274,428 269.6,436 266.9,444 266.4,452 268.3,460 272,465.9 276,470 288,477.1 308,483.8 344,492.8 361.8,500 368.3,504 372.4,508 374,512 373.5,516 371.1,520 360,528 348,533.2 336,536.7 320,538.1 299.2,536 257,528 224.8,520 183,508 120,486.1 96,479.2 40,467.5 8,462.1 -4,458.6Z"/>
<path fill="#63ff94" fill-rule="evenodd" d="M1152.7,216 1168,214.2 1176,215 1192,222.1 1200,223.5 1232,221.7 1256,223.3 1300,229.9 1336,237 1336,435.2 1324,432.9 1292,434.4 1264,433.5 1236,430.1 1200,420.6 1196,420.4 1180,422.8 1176,422.6 1160,418.6 1128,407.1 1100,395.9 1076,385.1 1056,374.1 999.5,336 989.5,328 982.6,320 977.7,308 977.3,300 978.9,292 993.2,264 999.5,256 1004,252.7 1013.7,248 1024,244.6 1080,232.7 1128,220ZM-4,240 32,250.8 128,296 204,324.6 225.5,336 240.9,348 244.4,352 248.7,360 250.3,368 249.8,376 246.4,388 237,412 228,444.4 224,453.5 219.4,460 214.9,464 208,467.3 200,467.6 192,465.8 184,462.6 172.5,456 144,434.7 136,431.3 128,429.6 104,430.4 56,437.4 20,440.9 8,440.9 -4,438.5Z"/>
<path fill="#97ff60" fill-rule="evenodd" d="M1143.8,224 1164,220.8 1172,220.6 1180,222.3 1192,228.1 1200,229.4 1232,227.4 1252,228.5 1292,234.3 1336,243.3 1336,424.2 1324,423 1292,424.6 1260,423.4 1232,419.4 1200,409.9 1180,408.2 1172,406.4 1152,398.4 1084,366.5 1064,354.1 1040,337.4 1018.2,320 1007.4,308 1005.2,304 1002.7,296 1002.4,288 1003.9,280 1007.2,272 1009.9,268 1020,260 1028.5,256 1040,252.3 1124,228.1ZM-4,248 -4,246.5 20,253.8 32,258.4 96,290.7 174.6,328 185.4,336 191.5,344 193.5,352 193.2,356 190.2,364 187.2,368 178.6,376 168,383 148,392.4 120,402.6 52,421.5 16,427.6 4,427.7 -4,426.5Z"/>
<path fill="#caff2c" fill-rule="evenodd" d="M1157.9,228 1168,226.7 1176,227.1 1192,233.7 1200,235 1236,232.8 1260,234.7 1304,242.1 1336,249.3 1336,416.3 1328,415.7 1288,417.5 1268,417 1244,414.5 1220,409 1200,402.2 1180,398.1 1159,388 1128,370.2 1096,353.8 1080,343.9 1064,332.3 1048,322.9 1035.6,312 1026.6,300 1025,296 1023.8,288 1025.7,280 1031.5,272 1043.9,264 1063.6,256 1122.4,236ZM-4,256 -4,252.8 28,264.2 149.1,328 159.3,336 164,342.6 165.3,348 162.9,356 156,364 144.6,372 132,378.5 109.9,388 60,405.7 32,413.7 12,417.4 -4,417.5Z"/>
<path fill="#feed00" fill-rule="evenodd" d="M1153.9,236 1172,233.3 1180,234.7 1192,239.4 1200,240.7 1236,238.2 1256,239.4 1300,246.8 1324,251.8 1336,255.5 1336,409.9 1288,411.5 1268,410.9 1248,409 1224,404.1 1184,390.6 1164,378.6 1145,364 1133.9,352 1120,332 1068,301.5 1060.9,296 1057.6,292 1055.8,288 1055.6,284 1056.8,280 1060,275.4 1069.6,268 1104,251.5 1128,242.8ZM-4,260 -4,259.2 12,264.9 27.9,272 84,306.2 122.2,328 132,336 134.5,340 135.4,344 134.5,348 131.8,352 120,360.2 45.6,396 20,405.6 -4,409.5Z"/>
<path fill="#ffb200" fill-rule="evenodd" d="M1157.9,244 1168,241.8 1176,241.6 1192,245.9 1204,247.2 1232,243.9 1256,244.7 1276,247.6 1297.8,252 1324,258.2 1336,262.2 1336,404 1316,405.6 1280,406 1252,403.9 1230.7,400 1224,398.3 1192,386.2 1181.4,380 1166.4,368 1155.7,356 1152.7,348 1152.7,344 1157.5,332 1157.8,328 1154.5,324 1149.1,320 1114.3,296 1106.8,288 1103.6,280 1105.1,272 1107.8,268 1117.5,260 1133.7,252ZM-4,268 -4,266.1 16,274.4 25.8,280 42.7,292 69.3,316 76.2,324 80.1,332 80.1,336 78.3,340 74.5,344 56,358.2 42.6,376 35.2,384 30.1,388 20,393.8 -4,401.7Z"/>
<path fill="#ff7700" fill-rule="evenodd" d="M1223,252 1240,250.2 1268,252.1 1318.4,264 1336,270.2 1336,397.6 1324,400.1 1280,400.2 1252,397.5 1232,393.5 1225.9,392 1196.7,380 1186,372 1178.4,364 1173.8,356 1172.9,352 1173.4,348 1177.6,340 1180.9,336 1188,330.2 1208,321.7 1232,317.6 1256,318.9 1272,323.1 1288,325 1300,327.9 1316,329.6 1326.8,328 1328,326.4 1328.8,324 1328,323.3 1310.4,312 1304,309.5 1282.7,304 1272,302.3 1256,301.8 1236,298.2 1224,298.3 1208,300.2 1192,299.2 1164,294.9 1156,293 1148,289.1 1142.3,284 1140.3,280 1140,276 1141.5,272 1144.7,268 1155.5,260 1164,255.9 1176,253.1 1204,255.1ZM-4,276 -4,274.8 6.8,280 13.6,284 23.7,292 34.1,304 36.8,312 36.5,316 34.6,320 24.7,332 22.5,336 21.3,344 22.6,364 20.9,372 18.7,376 12,382.9 -4,392.6Z"/>
<path fill="#ff3b00" fill-rule="evenodd" d="M1231.5,260 1252,259 1268,259.9 1297.6,268 1320.9,276 1328.9,280 1336,286.9 1336,295.4 1332,296.8 1324,296.7 1300,292.6 1252,286.7 1219.2,280 1208.1,276 1207.8,272 1221.8,264ZM1214.7,332 1232,329.3 1256,330.6 1296,339.6 1328,345.1 1336,347.8 1336,388 1329.6,392 1324,393.2 1308,393.6 1276,391.6 1240,386.1 1212,375.7 1205.9,372 1195.2,360 1192,353 1191.9,348 1193.6,344 1200,337.8 1208,333.6ZM-4,360 -4,356.8 -1.4,364 -1.2,368 -4,376.4Z"/>
<path fill="#e80000" fill-rule="evenodd" d="M1220.6,344 1232,341.7 1244,341.9 1256,343.4 1272.8,348 1313.4,364 1318.3,368 1320,372.5 1318.3,376 1316,377.2 1308,378.5 1296,377.4 1272,378.1 1240,373.3 1220,364.8 1214.9,360 1212.3,356 1211.3,352 1213.1,348Z"/>
<use href="#coast" fill="none" stroke="#000" stroke-width="4.2" stroke-linejoin="round" stroke-linecap="round"/>
</g><rect x="0" y="0" width="1331" height="655.9" fill="none" stroke="#000" stroke-width="3.3"/></g>
<rect x="78.5" y="831.4" width="83.5" height="66" fill="#0000a4"/>
<rect x="161.4" y="831.4" width="83.5" height="66" fill="#0000ed"/>
<rect x="244.6" y="831.4" width="83.5" height="66" fill="#0020ff"/>
<rect x="327.8" y="831.4" width="83.5" height="66" fill="#0060ff"/>
<rect x="410.9" y="831.4" width="83.5" height="66" fill="#00a0ff"/>
<rect x="494.1" y="831.4" width="83.5" height="66" fill="#00e0fb"/>
<rect x="577.3" y="831.4" width="83.5" height="66" fill="#30ffc7"/>
<rect x="660.5" y="831.4" width="83.5" height="66" fill="#63ff94"/>
<rect x="743.7" y="831.4" width="83.5" height="66" fill="#97ff60"/>
<rect x="826.9" y="831.4" width="83.5" height="66" fill="#caff2c"/>
<rect x="910.1" y="831.4" width="83.5" height="66" fill="#feed00"/>
<rect x="993.3" y="831.4" width="83.5" height="66" fill="#ffb200"/>
<rect x="1076.5" y="831.4" width="83.5" height="66" fill="#ff7700"/>
<rect x="1159.6" y="831.4" width="83.5" height="66" fill="#ff3b00"/>
<rect x="1242.8" y="831.4" width="83.5" height="66" fill="#e80000"/>
<rect x="1326" y="831.4" width="83.5" height="66" fill="#9f0000"/>
<rect x="78.5" y="831.4" width="1331" height="66" fill="none" stroke="#000" stroke-width="3.3"/>
<line x1="78.5" y1="897.4" x2="78.5" y2="912" stroke="#000" stroke-width="3.3"/>
<text x="78.5" y="957.9" font-size="41.67" text-anchor="middle">0</text>
<line x1="244.9" y1="897.4" x2="244.9" y2="912" stroke="#000" stroke-width="3.3"/>
<text x="244.9" y="957.9" font-size="41.67" text-anchor="middle">5</text>
<line x1="411.2" y1="897.4" x2="411.2" y2="912" stroke="#000" stroke-width="3.3"/>
<text x="411.2" y="957.9" font-size="41.67" text-anchor="middle">10</text>
<line x1="577.6" y1="897.4" x2="577.6" y2="912" stroke="#000" stroke-width="3.3"/>
<text x="577.6" y="957.9" font-size="41.67" text-anchor="middle">15</text>
<line x1="744" y1="897.4" x2="744" y2="912" stroke="#000" stroke-width="3.3"/>
<text x="744" y="957.9" font-size="41.67" text-anchor="middle">20</text>
<line x1="910.4" y1="897.4" x2="910.4" y2="912" stroke="#000" stroke-width="3.3"/>
<text x="910.4" y="957.9" font-size="41.67" text-anchor="middle">25</text>
<line x1="1076.8" y1="897.4" x2="1076.8" y2="912" stroke="#000" stroke-width="3.3"/>
<text x="1076.8" y="957.9" font-size="41.67" text-anchor="middle">30</text>
<line x1="1243.1" y1="897.4" x2="1243.1" y2="912" stroke="#000" stroke-width="3.3"/>
<text x="1243.1" y="957.9" font-size="41.67" text-anchor="middle">35</text>
<line x1="1409.5" y1="897.4" x2="1409.5" y2="912" stroke="#000" stroke-width="3.3"/>
<text x="1409.5" y="957.9" font-size="41.67" text-anchor="middle">40</text>
<text x="744" y="1092" font-size="50" text-anchor="middle" xml:space="preserve">Ionosphere  (h=450.0 km), 2021-01-21 03:00 UT</text>
<g transform="translate(78.5,1117.5)"><g clip-path="url(#mc)">
<rect x="0" y="0" width="1331" height="655.9" fill="#0000a4"/>
<path fill="#0000ed" fill-rule="evenodd" d="M1069.5,36 1124,32.3 1180,32.1 1232,33.9 1312,38.6 1324,39.9 1336,42.8 1336,660 -4,660 -4,46.2 40,56.2 73.7,68 103.6,80 120.4,88 133.5,96 142.9,104 149.5,112 153.3,120 154.1,128 149.6,152 149.8,160 152,169.5 160.6,188 162.4,200 160.5,208 156.9,216 141.3,236 138.5,244 140.2,252 143.5,256 156,265.2 168,269.2 180,276.6 196,282.1 208,288.2 220,291.1 232,296.2 248,299.8 260,304.4 276,307 288,313.2 300,317.7 332,325.4 364,343.6 376,347.3 384,345.6 404,332.8 412,328.9 432,322.1 440,321 468,319.5 492,320.4 528,325.1 548,323.5 552,324.8 556,328.3 557.8,332 558.8,336 558.5,340 557.1,344 553.8,348 544,353.7 528,358.2 520,359.2 500,358.2 480,355.9 464,355.9 440,358 424,361 408,361.5 400,363.5 396,365.8 392,369.6 375.7,392 360,406.8 336,421.3 316,428.7 309.5,432 306.6,436 306.8,440 309.7,444 315.2,448 323.7,452 332,454.6 364,459.2 388,460.4 408,458.3 452,451.3 468,450.3 484,451 524,456.6 568,465.6 596,468.7 616,468 640,464.3 660,458.5 680,450.8 692,447.3 744,438.3 764,432.8 776.5,428 798.4,416 815,404 824.4,396 836.4,384 846.1,372 853.7,360 859.2,348 865.4,328 872,284 884.9,240 901.4,192 906.4,180 913.4,168 932,141.5 938.7,128 942.1,116 945.2,88 947.7,80 950,76 956.5,68 964,61.9 974,56 988,50.4 1020,42.9ZM658.8,116 680,115.1 692,116.2 700,118.2 708,121.7 712,124.6 714.2,128 714.7,132 713.5,136 711,140 706.3,144 696,149.5 677.9,156 640,167 620,174 600,182.5 556,204.5 536,213.4 524,218.1 500,224.6 464,231.8 440,234.5 400,235.8 372,233.9 364,232.2 352,228.2 328,214.9 320,209.2 316,205 312.2,196 312.6,192 316,185.7 320,182.2 328,178.8 348,175 396,171 484,157.6 516,150.2 592,128 624,121.1Z"/>
<path fill="#0020ff" fill-rule="evenodd" d="M1146.2,64 1180,63.4 1232,66 1296,70.7 1316,71.1 1328,72.3 1336,76 1336,107.4 1320,105.4 1312,107.2 1304,113.5 1302.5,116 1302.4,120 1304.7,124 1308,127.1 1316,131.2 1336,131.8 1336,660 -4,660 -4,134.7 8,136.9 28,137.7 36,139.8 44,143.2 52.1,148 66.8,160 74,168 79,176 81.4,184 81.2,188 80,192.2 76,198.1 72,201.2 64,204.6 40,208.9 36,212 35.9,216 39.2,220 56,228.7 72,239.9 88,244.8 104,254.8 116,259.1 128,267.5 140,272.2 152,279.4 164,282.9 180,291.1 192,294.6 204,301.3 216,304.9 232,313.7 244,316.6 264,329.1 267.3,332 271.9,340 278.9,356 280.8,364 280.7,372 276.5,384 267.5,400 262.2,412 259.9,420 258.8,432 259.8,440 262.8,448 269.2,456 276,460.8 288,465.9 304,469.5 332,473.1 364,475.6 392,474.7 448,468.1 472,468.1 500,471.5 556,483.4 580,487.7 604,490.1 632,491.2 652,488.9 692,480.3 740,476.6 752,474.1 764,469.8 780,461.3 804,445.6 852,410.1 900.5,376 908,369.1 912,364 916.8,352 918.1,336 912.5,300 912.5,280 915.3,268 918.6,260 924,251.6 931,244 944,234.9 956,229.4 964,226.8 984,222.9 1052,216.4 1072.9,212 1081.7,208 1086.7,204 1088.9,200 1086.1,196 1084,195.3 1060,192 1036,191 996,197.6 988,196.8 980,194.1 976,191.5 972,186.8 969.7,180 969.3,176 972.2,164 979.7,152 988,143.9 1004,134.6 1051.6,120 1071.2,112 1074.9,108 1075.5,104 1072.1,92 1072.3,88 1074.2,84 1078.2,80 1087.3,76 1104,70.8 1128,66ZM1184,171.2 1172,176.2 1166.8,180 1164.3,184 1164.6,188 1168.4,192 1176.4,196 1180,196.7 1204,198.3 1232,195.6 1242.3,192 1247.2,188 1247.9,184 1244.8,180 1240,177.8 1220,173.2 1208,172.6 1192,170.1ZM660,543.7 652,545.2 646.1,548 636,555.9 635.5,560 640,562.2 644,562.9 660,562.4 668.1,560 672.7,556 675.1,552 674.8,548 672,545.2ZM-4,84 -4,82.5 16,88.8 20.8,92 23.9,96 24.1,100 20,103.9 16,105.2 -4,106.8Z"/>
<path fill="#0060ff" fill-rule="evenodd" d="M1135.3,212 1144,210.5 1164,209.2 1244,209.2 1292,213.5 1320,217.7 1336,222 1336,660 1031.7,660 992,653 872,637.9 824,633.4 792,633.3 752,631.2 720,632.8 688,640.4 652,645.3 636,646.6 592,647.1 540,642.7 504,646.8 456,650.8 412,651.3 384,650 356,650.8 256,650 212,650.5 188,651.5 136,655.9 60,655 7.7,660 -4,660 -4,225.5 16,231.7 44,243.3 96,268.6 188,310.2 211,324 226,336 236.2,348 239.9,356 241.4,364 241,372 235.5,396 233.8,408 233.5,428 235.2,444 237.1,452 240.5,460 246.6,468 252,472.1 264,477.8 280,481.7 312,483.8 364,489.4 392,488.9 436,483.1 452,481.9 476,483.5 504,490.4 540,503.3 564,510.4 588,516 595.5,520 597.4,524 596.5,528 592,532.4 576,540.1 552,545.2 528,547.9 516,551.1 508,556 505.3,560 504.8,564 506.4,568 509.5,572 516,577.1 524,581.1 540,586.8 588,596.6 616,600 632,605.2 640,605.7 652,601.8 668,590.3 680,586.4 704,576.5 736,560 764,542.6 804,513.8 812,507 817.8,500 821.5,492 827.8,472 832.5,464 844,452.8 856.7,444 876,433 896,423.7 920,415.6 968,403.8 980,398.9 988,393.1 991.7,388 993,384 993.2,380 991.6,372 987.5,364 972,345 964,333.3 956,317.4 952,304 951.7,292 953.8,284 960,273.8 970,264 992,249.6 1004,244.2 1024,239 1076,228.2 1112,217.2Z"/>
<path fill="#00a0ff" fill-rule="evenodd" d="M1143.7,220 1176,216.7 1236,216.4 1292,222.7 1320,227.3 1336,231.8 1336,501.5 1324,503.1 1322.7,504 1321.1,508 1324,512.2 1336,516.3 1336,627.3 1216,627.5 1160,626.5 1116,624.7 1068,621.2 1032,617.1 996,611.2 924,592.8 904,588.8 876,585.9 816,584.9 808,583.8 800,580 797.2,576 796.4,572 797.5,568 800,563.8 808.5,556 836,540.4 880,519.9 908,511.1 936,505.6 980,502.5 1000,502.7 1024,499.1 1032.5,496 1037.9,492 1040.3,488 1040.5,484 1038.9,480 1035.1,476 1020.7,468 1016.6,464 1014.6,460 1014.3,456 1015.8,452 1020,447.6 1028,443.5 1037.7,440 1052,437.2 1064,432.8 1068,430.1 1069.3,428 1070.5,424 1070.5,420 1063.8,404 1050.3,384 1038.5,360 1031.5,348 1025,340 995.7,312 989.1,304 986.5,296 986.3,292 988,284 992.7,276 1000.4,268 1012.2,260 1024,254.3 1120,225.1ZM-4,236 16,242 40,252.8 140,303.2 168,316.4 184,325.5 196.4,336 204.5,348 205.8,352 206.5,360 205.2,368 197.2,392 196.2,400 196.6,408 207.9,464 210.7,472 216,480.1 221.2,484 236,492 260,498.6 272,500 320,500.3 336,501.5 388,511.1 406,516 424,523 436.2,524 431.3,528 428,528.8 424,531.8 416,540 412,545.9 409.5,556 410.6,564 412.3,568 416,572.8 424,578.7 452,590.5 460,595.6 463.2,600 464,604 461.1,608 452,610.4 432,609.5 412,612.6 368,614.5 340,613.7 324,611.1 308,606.2 294,600 256,572.6 232,558.2 212,548.2 204,544.7 192,541.3 176,539.6 168,541.9 164,545.1 162.2,548 160.7,552 160.5,556 163.6,576 163.3,584 159.7,592 156.3,596 150.6,600 141.2,604 128.1,608 96,614.5 36,624.1 12,626.7 -4,627.3 -4,517.8 0,518.2 8,517.2 12.1,516 16.7,512 15.9,508 12,506 6.3,504 -4,502.3Z"/>
<path fill="#00e0fb" fill-rule="evenodd" d="M1167.3,224 1180,222.9 1236,222.7 1292,229.7 1320,234.6 1336,239.3 1336,454.3 1320,451.5 1256,448.9 1224,445.1 1196,438.4 1176,429.9 1145.3,412 1104,391 1092,383.4 1080.8,372 1076.1,364 1069.1,348 1059.3,336 1055.1,332 1040,325.7 1036,322.9 1028,315.5 1019.2,304 1016,296 1015.5,292 1016.8,284 1020,278.1 1025.5,272 1037.5,264 1066,252 1124,232.3 1148,226.8ZM-4,244 -4,243 16,250.4 40,262.2 164,329.8 175.9,340 180.4,348 180.4,356 176.7,364 169.5,372 156,382 112,404.2 93.9,416 64,438.2 48,447.6 36,452.7 24,455.4 8,456.7 -4,455.9ZM975.6,548 1000,545.4 1028,547.4 1061.1,552 1071,556 1073.1,560 1070.7,564 1060,568.4 1036,571.3 1016,570.4 1002.5,568 976.3,560 970.3,556 969.6,552ZM1257,552 1264,551.2 1292,551.1 1308,553.6 1328,552.9 1336,554.3 1336,588.1 1328,582 1324,580.5 1286.3,572 1261,564 1254.1,560 1251.8,556ZM-4,560 -4,557.1 8,559.3 32,561.4 45.9,564 57.5,568 63.2,572 65.5,576 65.7,580 63.7,584 59.1,588 49.7,592 40,594.6 12,596.7 0,596.3 -4,594.7Z"/>
<path fill="#30ffc7" fill-rule="evenodd" d="M1161.2,232 1180,229.6 1204,229.8 1232,228.6 1292,236 1320,241.3 1336,246.2 1336,428.4 1332,426.8 1324,426.1 1284,429.4 1256,428.4 1224,422.8 1204,416.8 1188,410.3 1172,402.2 1141.4,384 1124.1,372 1116,364 1112.7,356 1113.6,352 1124,340.1 1127.1,332 1126.3,328 1123.4,324 1118.8,320 1106.6,312 1088,302.2 1080,301 1076,301.8 1068,306.1 1064,307.4 1060,307.1 1052.1,304 1048.5,300 1045.6,292 1046.7,284 1052.1,276 1062.7,268 1078.3,260 1127.4,240ZM-4,252 -4,250 8,254.7 32,266.6 137.8,328 148.9,336 155.7,344 156.9,348 156.4,352 154.1,356 149.9,360 143.5,364 107.5,380 92,387.9 52.8,416 36,425.3 24,430.4 12,433.7 4,434.1 -4,432.5Z"/>
<path fill="#63ff94" fill-rule="evenodd" d="M1219.6,236 1236,235.8 1284,240.9 1320,247.9 1336,253.2 1336,415.8 1324,414.3 1288,417.8 1268,417.9 1252,416.6 1232,413.1 1204,404.1 1184,394.5 1162.8,380 1152.3,368 1148.4,360 1147.8,352 1152,338.9 1156,331.4 1160,329.3 1168,327.1 1180,321 1192,318.7 1199.4,316 1204.9,312 1205.9,308 1200.3,304 1196,302.5 1188,301.8 1180,302.7 1172,301.5 1156,296.3 1148,291.1 1144,289.6 1140,289.3 1128,291.5 1120,289.9 1112,285 1107.9,280 1106.5,276 1106.6,272 1108.3,268 1115.8,260 1127.9,252 1148.9,244 1164.9,240 1180,237.6ZM1264,310.1 1261.3,312 1263.9,316 1272,317.6 1276,317.9 1284.7,316 1285.6,312 1276,308.6 1268,308.7ZM-4,260 -4,257.2 12,263.9 40.3,280 102.5,320 119.7,332 126.9,340 127.6,344 126,348 120,353 88,367.3 76,373.9 64,383.6 48,398.9 32,410.6 16,417.6 4,420.2 -4,419.2Z"/>
<path fill="#97ff60" fill-rule="evenodd" d="M1224,244 1244,244 1284,247.4 1316,254.2 1336,260.9 1336,405.9 1324,404.9 1296,408.1 1276,408.8 1256,407.9 1236,404.6 1212,397.2 1196,390 1180.5,380 1168.8,368 1165.3,360 1164.9,356 1167.8,348 1172,343.3 1180,337.9 1188,334.1 1224,322.1 1232,320.6 1240,321 1260,326.7 1272,328.1 1284,327.9 1308,329.5 1328,328 1329.7,324 1328.3,320 1325.4,316 1312,304.4 1304,300.6 1276,295.3 1240,294.6 1196,285.4 1176,282.5 1166.2,280 1157.1,276 1152,272 1149.7,268 1150.3,264 1153.5,260 1159.5,256 1169.1,252 1184.7,248ZM-4,268 -4,265 11.7,272 37.1,288 63,308 71.9,316 78.7,324 81.6,332 80.6,336 77.5,340 64,349.8 57.7,356 55,360 43.5,384 36.9,392 28,399.8 20.6,404 12,407.5 4,409.3 -4,408.6Z"/>
<path fill="#caff2c" fill-rule="evenodd" d="M1227.1,256 1236,254.7 1256,253.7 1282,256 1300,260.7 1312,262.8 1328.4,268 1336,271.6 1336,299.4 1324,293.7 1304,286.8 1276,283 1248,281.1 1224,274.9 1217.9,272 1213.7,268 1213.3,264 1217.2,260ZM-4,276 11.9,284 26.3,296 30,300 34.5,308 35.6,312 34.2,316 32,317.9 28,318.7 20,317.3 8,312.7 -4,305.6ZM1232.2,332 1244,332 1264,334.7 1284,335.6 1336,344.5 1336,395.6 1328,395.3 1300,399 1280,400 1256,399 1240,396.5 1224,392.5 1204,384.2 1192,376 1184.3,368 1180.7,360 1180.7,356 1182.5,352 1188,346.4 1196,341.7 1208,337.2 1220,333.9ZM-4,348 -4,345.9 4,347.6 16,352.9 22.5,360 25.5,368 25.9,376 25.2,380 20.8,388 12,394.5 4,397.2 -4,397.2Z"/>
<path fill="#feed00" fill-rule="evenodd" d="M1219,344 1240,341.2 1268,342.7 1288,345.5 1328,354.6 1336,359.3 1336,381 1308,388.8 1284,391.1 1256,390 1228,385 1207.6,376 1200,368 1197.7,364 1196.7,360 1197.4,356 1200.4,352 1208,347.5Z"/>
<path fill="#ffb200" fill-rule="evenodd" d="M1221.7,356 1240,352.3 1268,353.4 1279.4,356 1301.9,364 1310.3,368 1311.3,372 1304,376.6 1276,380.7 1256,379.6 1236,377 1231.7,376 1216,368 1213.5,364 1214.6,360Z"/>
<use href="#coast" fill="none" stroke="#000" stroke-width="4.2" stroke-linejoin="round" stroke-linecap="round"/>
</g><rect x="0" y="0" width="1331" height="655.9" fill="none" stroke="#000" stroke-width="3.3"/></g>
<rect x="78.5" y="1816.4" width="83.5" height="66" fill="#0000a4"/>
<rect x="161.4" y="1816.4" width="83.5" height="66" fill="#0000ed"/>
<rect x="244.6" y="1816.4" width="83.5" height="66" fill="#0020ff"/>
<rect x="327.8" y="1816.4" width="83.5" height="66" fill="#0060ff"/>
<rect x="410.9" y="1816.4" width="83.5" height="66" fill="#00a0ff"/>
<rect x="494.1" y="1816.4" width="83.5" height="66" fill="#00e0fb"/>
<rect x="577.3" y="1816.4" width="83.5" height="66" fill="#30ffc7"/>
<rect x="660.5" y="1816.4" width="83.5" height="66" fill="#63ff94"/>
<rect x="743.7" y="1816.4" width="83.5" height="66" fill="#97ff60"/>
<rect x="826.9" y="1816.4" width="83.5" height="66" fill="#caff2c"/>
<rect x="910.1" y="1816.4" width="83.5" height="66" fill="#feed00"/>
<rect x="993.3" y="1816.4" width="83.5" height="66" fill="#ffb200"/>
<rect x="1076.5" y="1816.4" width="83.5" height="66" fill="#ff7700"/>
<rect x="1159.6" y="1816.4" width="83.5" height="66" fill="#ff3b00"/>
<rect x="1242.8" y="1816.4" width="83.5" height="66" fill="#e80000"/>
<rect x="1326" y="1816.4" width="83.5" height="66" fill="#9f0000"/>
<rect x="78.5" y="1816.4" width="1331" height="66" fill="none" stroke="#000" stroke-width="3.3"/>
<line x1="78.5" y1="1882.4" x2="78.5" y2="1897" stroke="#000" stroke-width="3.3"/>
<text x="78.5" y="1942.9" font-size="41.67" text-anchor="middle">0</text>
<line x1="244.9" y1="1882.4" x2="244.9" y2="1897" stroke="#000" stroke-width="3.3"/>
<text x="244.9" y="1942.9" font-size="41.67" text-anchor="middle">5</text>
<line x1="411.2" y1="1882.4" x2="411.2" y2="1897" stroke="#000" stroke-width="3.3"/>
<text x="411.2" y="1942.9" font-size="41.67" text-anchor="middle">10</text>
<line x1="577.6" y1="1882.4" x2="577.6" y2="1897" stroke="#000" stroke-width="3.3"/>
<text x="577.6" y="1942.9" font-size="41.67" text-anchor="middle">15</text>
<line x1="744" y1="1882.4" x2="744" y2="1897" stroke="#000" stroke-width="3.3"/>
<text x="744" y="1942.9" font-size="41.67" text-anchor="middle">20</text>
<line x1="910.4" y1="1882.4" x2="910.4" y2="1897" stroke="#000" stroke-width="3.3"/>
<text x="910.4" y="1942.9" font-size="41.67" text-anchor="middle">25</text>
<line x1="1076.8" y1="1882.4" x2="1076.8" y2="1897" stroke="#000" stroke-width="3.3"/>
<text x="1076.8" y="1942.9" font-size="41.67" text-anchor="middle">30</text>
<line x1="1243.1" y1="1882.4" x2="1243.1" y2="1897" stroke="#000" stroke-width="3.3"/>
<text x="1243.1" y="1942.9" font-size="41.67" text-anchor="middle">35</text>
<line x1="1409.5" y1="1882.4" x2="1409.5" y2="1897" stroke="#000" stroke-width="3.3"/>
<text x="1409.5" y="1942.9" font-size="41.67" text-anchor="middle">40</text>
<text x="744" y="2077" font-size="50" text-anchor="middle" xml:space="preserve">Plasmasphere (h=1500.0 km), 2021-01-21 03:00 UT</text>
<g transform="translate(78.5,2102.5)"><g clip-path="url(#mc)">
<rect x="0" y="0" width="1331" height="655.9" fill="#0000c8"/>
<path fill="#0040ff" fill-rule="evenodd" d="M912,108 944,106.8 980,107.2 1096,115.9 1180,120.7 1252,128.1 1336,141.2 1336,455.2 1332,451.8 1322.2,448 1312,446.5 1292,445.5 1256,446.7 1196,452.7 1132,449.1 1104,448.3 1016,451.7 984,449.3 924,440 908,439.1 888,439.7 856,445.3 788,462.4 756,472.1 700,492.2 668,502.6 628,512.3 600,515.9 568,517.3 512,515.1 474.7,516 444,519.8 280,549.2 252,552.6 228,553.7 204,552.7 180,549.5 160,544.9 140,538.1 120,529.3 61.5,500 12,477.6 2.2,472 -4,466.1 -4,142.7 28,143.7 68,146.5 136,153.5 184,160.1 272,176.3 292,178.9 332,181.1 368,180.6 408,177.1 444,176.1 476,173.4 544,159.9 600,146.3 640,138.6 676,134.2 752,132 784,128.9 824,122.4 884,110.8Z"/>
<path fill="#00c0ff" fill-rule="evenodd" d="M910.9,152 928,150.8 956,151.4 1032,158.8 1068,160.6 1164,158.6 1200,160.7 1228,166.2 1244.6,172 1261.1,180 1292,199.8 1308,207 1316,209 1324,209.5 1336,206.9 1336,399.1 1288,394.1 1232,392.8 1112,403.1 1028,411.6 1008,412.3 980,410.7 912,400.4 896,399.8 884,400.6 872,402.5 844,409.6 804,422.6 772,434.4 680,471.4 651.9,480 620,486.8 576,491 548,490.9 504,488.4 480,489.2 452,492.3 336,509.5 304,512.4 280,513.2 256,512.6 232,509.8 216,506.4 196,499.8 179,492 124,461.9 72,436.4 24,408.7 12,404 -4,400.7 -4,202 16,193.5 32,190.3 52,188 104,188.9 168,195.9 212,203.6 268,211.8 292,213.2 324,212.6 368,210 412,206.1 460,205.8 476,204.8 492,202.4 583.7,184 616,179.1 648,175.8 680,174.1 740,174.4 776,172.9 840,164.8 892,154.7Z"/>
<path fill="#49ffad" fill-rule="evenodd" d="M1142.2,216 1160,214.1 1172,214 1188,215.2 1204,218.2 1232,226.5 1284,247.2 1336,265.9 1336,369.8 1316,371.9 1284,369.7 1244,368.4 1168,370.3 1132,368.7 1068,362.5 1044,362.1 1008,363.5 996,362.8 972,358.8 948,350.6 929.7,340 924,334.6 919.5,328 918.4,320 921.7,308 927.4,296 937.1,280 951.4,260 958.4,252 968,243.5 979.7,236 996,229.8 1012,226.7 1032,225.4 1080,224.7 1108,221.7ZM145.6,236 160,234.4 176,234.6 204,237.4 256,244.4 280,246 404,240.4 484,241.4 532,244.4 551.9,248 565.3,252 574.4,256 584,261.6 600,276 609.7,288 637.1,328 640,336.2 642,348 640.3,388 645.6,412 645.7,420 644.9,424 640.8,432 637.3,436 626.5,444 608,450.9 588,455.1 564,457.6 512,456.1 492,457 376,477.9 336,483.9 304,486.3 276,485.4 256,482.6 240,478.9 220.6,472 204.4,464 192.5,456 182.7,448 160,422.2 148,411 136,403.9 116,395.6 92,383.4 73.1,368 60,354.4 56,352.4 52,352 44,353.2 -4,367.2 -4,271 8,279.7 21,292 56,332.1 64,337.2 68,338.1 76,337.5 84,335.1 92,331.1 100,323.8 108,309.8 113.1,296 117,264 121.1,252 124,247.9 132,241.5Z"/>
<path fill="#b1ff46" fill-rule="evenodd" d="M1138.5,260 1152,257.3 1172,256.2 1188,256.9 1208,259.7 1252,270.1 1288,280.9 1307.8,288 1320,293.3 1328,298.1 1332,301.6 1336,307.3 1336,338.2 1329.6,344 1320,347.2 1308,348.8 1284,349.3 1232,344.5 1180,341.4 1156,339.1 1124,333.9 1103.8,328 1097.7,324 1094,320 1089.3,312 1087.2,304 1087,300 1089,292 1092,287 1098.3,280 1109,272 1124,264.5ZM251.8,300 268,297.3 284,298.7 289.2,300 298.3,304 308,312 312.7,320 320.1,344 326.2,356 332,364 346.4,380 364,394.3 378.4,404 386,412 389.5,420 389.5,424 388.2,428 381.7,436 376.1,440 367.6,444 356.9,448 341.9,452 324,455.3 304,456.3 288,454.6 272,450.9 256.2,444 244,434.6 238.4,428 233.8,420 230.9,412 229.2,404 227.9,384 229.2,336 231.5,320 235,312 243.2,304Z"/>
<use href="#coast" fill="none" stroke="#000" stroke-width="4.2" stroke-linejoin="round" stroke-linecap="round"/>
</g><rect x="0" y="0" width="1331" height="655.9" fill="none" stroke="#000" stroke-width="3.3"/></g>
<rect x="78.5" y="2801.4" width="166.7" height="66" fill="#0000c8"/>
<rect x="244.6" y="2801.4" width="166.7" height="66" fill="#0040ff"/>
<rect x="410.9" y="2801.4" width="166.7" height="66" fill="#00c0ff"/>
<rect x="577.3" y="2801.4" width="166.7" height="66" fill="#49ffad"/>
<rect x="743.7" y="2801.4" width="166.7" height="66" fill="#b1ff46"/>
<rect x="910.1" y="2801.4" width="166.7" height="66" fill="#ffd000"/>
<rect x="1076.5" y="2801.4" width="166.7" height="66" fill="#ff5900"/>
<rect x="1242.8" y="2801.4" width="166.7" height="66" fill="#c40000"/>
<rect x="78.5" y="2801.4" width="1331" height="66" fill="none" stroke="#000" stroke-width="3.3"/>
<line x1="78.5" y1="2867.4" x2="78.5" y2="2882" stroke="#000" stroke-width="3.3"/>
<text x="78.5" y="2927.9" font-size="41.67" text-anchor="middle">0.0</text>
<line x1="244.9" y1="2867.4" x2="244.9" y2="2882" stroke="#000" stroke-width="3.3"/>
<text x="244.9" y="2927.9" font-size="41.67" text-anchor="middle">2.5</text>
<line x1="411.2" y1="2867.4" x2="411.2" y2="2882" stroke="#000" stroke-width="3.3"/>
<text x="411.2" y="2927.9" font-size="41.67" text-anchor="middle">5.0</text>
<line x1="577.6" y1="2867.4" x2="577.6" y2="2882" stroke="#000" stroke-width="3.3"/>
<text x="577.6" y="2927.9" font-size="41.67" text-anchor="middle">7.5</text>
<line x1="744" y1="2867.4" x2="744" y2="2882" stroke="#000" stroke-width="3.3"/>
<text x="744" y="2927.9" font-size="41.67" text-anchor="middle">10.0</text>
<line x1="910.4" y1="2867.4" x2="910.4" y2="2882" stroke="#000" stroke-width="3.3"/>
<text x="910.4" y="2927.9" font-size="41.67" text-anchor="middle">12.5</text>
<line x1="1076.8" y1="2867.4" x2="1076.8" y2="2882" stroke="#000" stroke-width="3.3"/>
<text x="1076.8" y="2927.9" font-size="41.67" text-anchor="middle">15.0</text>
<line x1="1243.1" y1="2867.4" x2="1243.1" y2="2882" stroke="#000" stroke-width="3.3"/>
<text x="1243.1" y="2927.9" font-size="41.67" text-anchor="middle">17.5</text>
<line x1="1409.5" y1="2867.4" x2="1409.5" y2="2882" stroke="#000" stroke-width="3.3"/>
<text x="1409.5" y="2927.9" font-size="41.67" text-anchor="middle">20.0</text>
</svg></body></html>
